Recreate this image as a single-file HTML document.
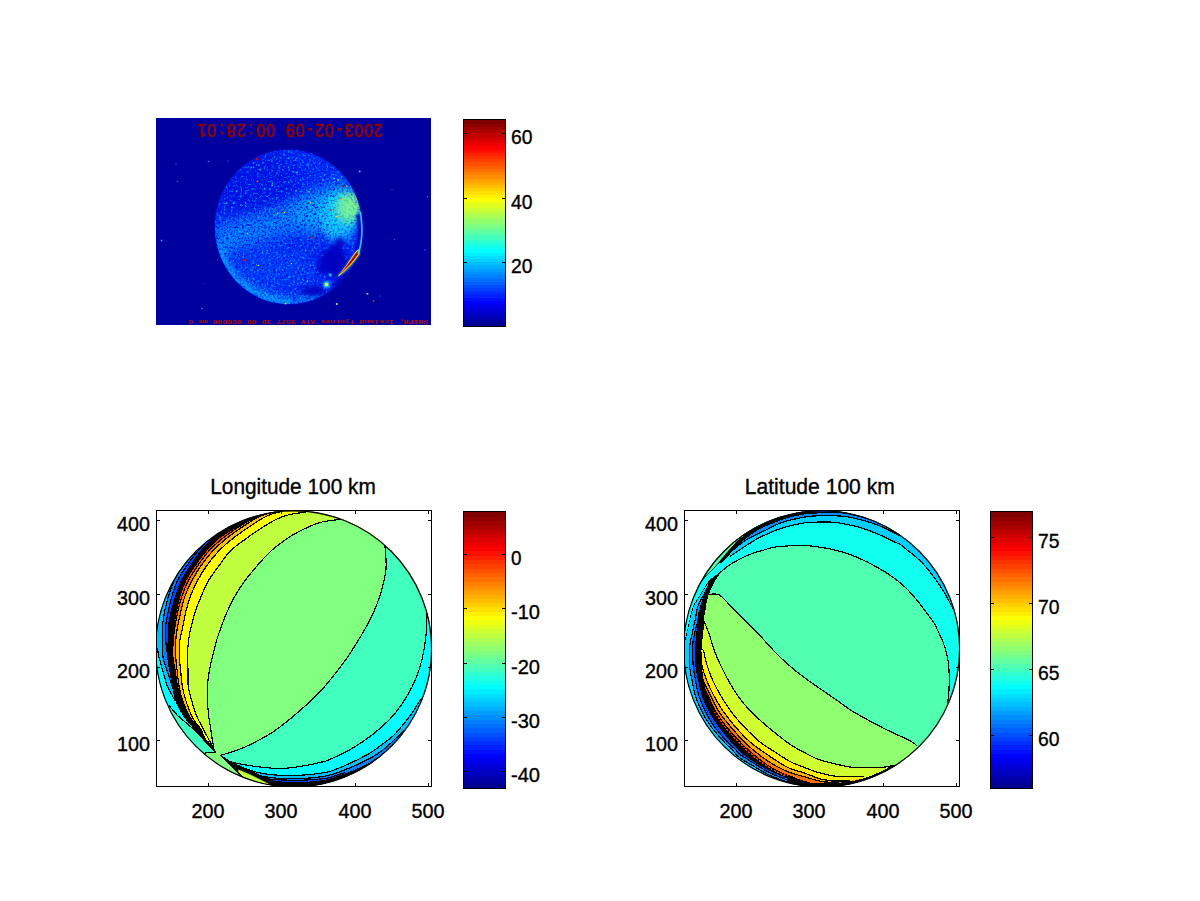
<!DOCTYPE html>
<html><head><meta charset="utf-8"><title>Figure</title>
<style>
html,body{margin:0;padding:0;background:#fff;}
body{width:1200px;height:901px;overflow:hidden;position:relative;font-family:"Liberation Sans",Arial,Helvetica,sans-serif;}
svg{position:absolute;left:0;top:0;display:block;}
text{fill:#000;stroke:#000;stroke-width:0.35px;}
</style></head><body>
<svg width="1200" height="901" viewBox="0 0 1200 901">
<rect x="0" y="0" width="1200" height="901" fill="#fff"/>
<defs>
<clipPath id="imgclip"><rect x="156" y="118" width="275" height="207"/></clipPath>
<clipPath id="diskclip"><ellipse cx="288.5" cy="227.0" rx="73.5" ry="77.0"/></clipPath>
<filter id="b2" filterUnits="userSpaceOnUse" x="140" y="100" width="310" height="240"><feGaussianBlur stdDeviation="2"/></filter>
<filter id="b4" filterUnits="userSpaceOnUse" x="140" y="100" width="310" height="240"><feGaussianBlur stdDeviation="4"/></filter>
<filter id="b7" filterUnits="userSpaceOnUse" x="140" y="100" width="310" height="240"><feGaussianBlur stdDeviation="7"/></filter>
<filter id="b1" filterUnits="userSpaceOnUse" x="140" y="100" width="310" height="240"><feGaussianBlur stdDeviation="0.9"/></filter>
<filter id="noiseL" x="0" y="0" width="100%" height="100%" color-interpolation-filters="sRGB">
<feTurbulence type="fractalNoise" baseFrequency="0.42" numOctaves="2" seed="3" result="t"/>
<feColorMatrix in="t" type="matrix" values="0 0 0 0 0  0 0 0 0 0.70  0 0 0 0 1  3.0 0 0 0 -1.55"/>
</filter>
<filter id="noiseD" x="0" y="0" width="100%" height="100%" color-interpolation-filters="sRGB">
<feTurbulence type="fractalNoise" baseFrequency="0.45" numOctaves="2" seed="9" result="t"/>
<feColorMatrix in="t" type="matrix" values="0 0 0 0 0  0 0 0 0 0.05  0 0 0 0 0.9  0 3.0 0 0 -1.35"/>
</filter>
</defs>
<g clip-path="url(#imgclip)">
<rect x="156" y="118" width="275" height="207" fill="#00009F"/>
<ellipse cx="288.5" cy="227.0" rx="73.5" ry="77.0" fill="#0020F0" filter="url(#b1)"/>
<g clip-path="url(#diskclip)">
<rect x="200" y="140" width="180" height="180" fill="#0028F4"/>
<ellipse cx="255" cy="185" rx="45" ry="35" fill="#0010E0" opacity="0.8" filter="url(#b7)"/>
<path d="M215 243 C240 232 270 226 300 214 C320 205 335 198 352 190" fill="none" stroke="#0090FF" stroke-width="30" opacity="0.85" filter="url(#b7)"/>
<path d="M300 222 C320 212 335 210 356 205" fill="none" stroke="#00B8FF" stroke-width="34" opacity="0.8" filter="url(#b7)"/>
<path d="M218 240 C222 270 245 295 290 303 C300 304 310 300 320 296" fill="none" stroke="#00A0FF" stroke-width="10" opacity="0.9" filter="url(#b4)"/>
<ellipse cx="275" cy="268" rx="40" ry="20" fill="#0050FF" opacity="0.6" filter="url(#b7)"/>
<ellipse cx="350" cy="208" rx="9" ry="16" fill="#80FF90" opacity="1" filter="url(#b4)"/><ellipse cx="352" cy="207" rx="5" ry="10" fill="#A0FF70" opacity="0.9" filter="url(#b2)"/>
<ellipse cx="338" cy="218" rx="17" ry="26" fill="#20E0FF" opacity="0.7" filter="url(#b4)"/>
<rect x="210" y="145" width="160" height="165" filter="url(#noiseL)"/>
<rect x="210" y="145" width="160" height="165" filter="url(#noiseD)"/>
<ellipse cx="340" cy="216" rx="16" ry="24" fill="#10D8FF" opacity="0.45" filter="url(#b4)"/>
<ellipse cx="347" cy="208" rx="11" ry="14" fill="#98FF78" opacity="0.7" filter="url(#b4)"/>
<path d="M220 250 C226 275 248 296 290 303" fill="none" stroke="#10C0FF" stroke-width="5" opacity="0.45" filter="url(#b2)"/>
<ellipse cx="333" cy="262" rx="14" ry="14" fill="#0000BE" opacity="0.88" filter="url(#b4)"/><ellipse cx="335" cy="262" rx="10" ry="11" fill="#0000BE" opacity="0.88" filter="url(#b2)"/>
<path d="M322 268 C330 262 336 250 340 242" fill="none" stroke="#0000C4" opacity="0.85" stroke-width="10" stroke-linecap="round" filter="url(#b2)"/>
<ellipse cx="313" cy="291" rx="12" ry="5" fill="#0000BC" opacity="0.88" filter="url(#b2)"/>
<path d="M358 214 C361 228 360 242 355 256 C352 266 346 276 338 284" fill="none" stroke="#0000BE" opacity="0.88" stroke-width="4.5" filter="url(#b1)"/>
<path d="M352 262 C348 272 342 280 334 288" fill="none" stroke="#0000BE" opacity="0.88" stroke-width="7" filter="url(#b2)"/>
</g>
<path d="M337.5 277 Q346 266 355.5 251.5 L359.8 248.5 L360 254.5 Q352 266 344 273 Z" fill="#20E0FF" opacity="0.7" filter="url(#b1)"/>
<path d="M338.5 276 Q347 265.5 355.8 252 L359 249.6 L359.2 254 Q352 264.5 343.5 272 Z" fill="#FFD800" stroke="#FFD800" stroke-width="0.8" stroke-linejoin="round"/>
<path d="M339.5 275 Q347.5 265.5 356 252.8 L358.4 250.8 L358.4 253.8 Q351.5 264 343.5 271.2 Z" fill="#E81000"/>
<path d="M345 268.5 Q351 261.5 356.2 253.6 L357.9 252 L357.7 254 Q352.5 261.5 347 267 Z" fill="#8C0000"/>
<path d="M360.5 212 C363 230 362 244 358 254" fill="none" stroke="#30D0FF" stroke-width="1.6" opacity="0.9"/>
<circle cx="326.5" cy="284.5" r="3.2" fill="#30E0FF" filter="url(#b1)"/>
<rect x="325" y="283" width="3" height="3" fill="#F0F000"/>
<rect x="329" y="273.5" width="2.5" height="3" fill="#20B0FF"/>
<rect x="256.1" y="157.7" width="2.2" height="2.2" fill="#E00000"/>
<rect x="256.7" y="180.7" width="1.6" height="1.6" fill="#FF6000"/>
<rect x="358.9" y="170.7" width="1.6" height="1.6" fill="#60C0FF"/>
<rect x="342.3" y="185.8" width="1.4" height="1.4" fill="#C00000"/>
<rect x="337.3" y="179.3" width="1.4" height="1.4" fill="#FFE000"/>
<rect x="345.9" y="185.4" width="1.2" height="1.2" fill="#FF8000"/>
<rect x="329.8" y="209.3" width="1.4" height="1.4" fill="#D00000"/>
<rect x="335.8" y="215.8" width="1.4" height="1.4" fill="#FFE000"/>
<rect x="341.9" y="198.9" width="1.2" height="1.2" fill="#FFE000"/>
<rect x="309.9" y="201.9" width="1.2" height="1.2" fill="#FFD000"/>
<rect x="308.5" y="191.5" width="1.0" height="1.0" fill="#FFD000"/>
<rect x="246.8" y="232.8" width="1.3" height="1.3" fill="#FFE000"/>
<rect x="243.0" y="259.0" width="2.0" height="2.0" fill="#E00000"/>
<rect x="254.9" y="264.9" width="1.2" height="1.2" fill="#C00000"/>
<rect x="257.9" y="264.9" width="1.2" height="1.2" fill="#FFE000"/>
<rect x="288.9" y="239.9" width="1.2" height="1.2" fill="#C00000"/>
<rect x="294.9" y="244.9" width="1.2" height="1.2" fill="#FF4000"/>
<rect x="290.9" y="262.9" width="1.3" height="1.3" fill="#FFE000"/>
<rect x="311.9" y="236.8" width="1.3" height="1.3" fill="#D02000"/>
<rect x="284.7" y="302.7" width="1.6" height="1.6" fill="#E0F000"/>
<rect x="306.9" y="280.4" width="1.2" height="1.2" fill="#80FF80"/>
<rect x="335.9" y="303.1" width="1.8" height="1.8" fill="#90F090"/>
<rect x="366.7" y="293.0" width="1.6" height="1.6" fill="#90F0C0"/>
<rect x="372.8" y="300.2" width="1.5" height="1.5" fill="#E04000"/>
<rect x="207.8" y="160.8" width="1.4" height="1.4" fill="#2080FF"/>
<rect x="202.9" y="282.9" width="1.2" height="1.2" fill="#B00000"/>
<rect x="160.8" y="239.8" width="1.5" height="1.5" fill="#30B0FF"/>
<rect x="176.8" y="180.8" width="1.3" height="1.3" fill="#2060FF"/>
<rect x="201.4" y="307.9" width="1.2" height="1.2" fill="#30A0FF"/>
<rect x="276.9" y="212.9" width="1.2" height="1.2" fill="#FFE000"/>
<rect x="283.9" y="211.9" width="1.2" height="1.2" fill="#FFE000"/>
<rect x="271.6" y="184.9" width="1.2" height="1.2" fill="#40E0FF"/>
<rect x="296.3" y="171.8" width="1.4" height="1.4" fill="#40E0FF"/>
<rect x="333.3" y="177.8" width="1.4" height="1.4" fill="#40E0FF"/>
<rect x="322.4" y="179.4" width="1.2" height="1.2" fill="#40E0FF"/>
<rect x="295.4" y="190.4" width="1.2" height="1.2" fill="#40E0FF"/>
<rect x="393.9" y="238.8" width="1.3" height="1.3" fill="#2060FF"/>
<rect x="391.4" y="189.4" width="1.2" height="1.2" fill="#2050E0"/>
<rect x="426.9" y="196.4" width="1.2" height="1.2" fill="#2080FF"/>
<rect x="424.4" y="249.4" width="1.2" height="1.2" fill="#2080FF"/>
<rect x="175.4" y="163.4" width="1.2" height="1.2" fill="#2060FF"/>
<rect x="227.4" y="160.4" width="1.2" height="1.2" fill="#2060FF"/>
<rect x="379.4" y="295.4" width="1.2" height="1.2" fill="#2060E0"/>
<rect x="216.8" y="259.3" width="1.4" height="1.4" fill="#1040FF"/>
<g transform="rotate(180 290 130.5)"><text transform="translate(290.2 137.2) scale(0.84 1)" x="-105.00 -93.33 -81.67 -70.00 -58.33 -46.67 -35.00 -23.33 -11.67 0.00 11.67 23.33 35.00 46.67 58.33 70.00 81.67 93.33 105.00" y="0" text-anchor="middle" font-family="Liberation Sans, Arial, sans-serif" font-size="18.6" style="fill:#8C0000;stroke:#8C0000;stroke-width:0.7px">2003-02-09 00:28:01</text></g>
<g transform="rotate(180 308 321.3)"><text x="308" y="322.8" text-anchor="middle" font-family="Liberation Mono, DejaVu Sans Mono, monospace" font-size="6" font-weight="bold" style="fill:#B01000;stroke:none" textLength="240" lengthAdjust="spacingAndGlyphs">©NIPR, Iceland Tjornes ATV 5577 30 00 000000 ms 0</text></g>
</g>
<g shape-rendering="crispEdges">
<rect x="464" y="322.78" width="41" height="3.82" fill="#00008F"/>
<rect x="464" y="319.56" width="41" height="3.82" fill="#00009F"/>
<rect x="464" y="316.34" width="41" height="3.82" fill="#0000AF"/>
<rect x="464" y="313.12" width="41" height="3.82" fill="#0000BF"/>
<rect x="464" y="309.91" width="41" height="3.82" fill="#0000CF"/>
<rect x="464" y="306.69" width="41" height="3.82" fill="#0000DF"/>
<rect x="464" y="303.47" width="41" height="3.82" fill="#0000EF"/>
<rect x="464" y="300.25" width="41" height="3.82" fill="#0000FF"/>
<rect x="464" y="297.03" width="41" height="3.82" fill="#0010FF"/>
<rect x="464" y="293.81" width="41" height="3.82" fill="#0020FF"/>
<rect x="464" y="290.59" width="41" height="3.82" fill="#0030FF"/>
<rect x="464" y="287.38" width="41" height="3.82" fill="#0040FF"/>
<rect x="464" y="284.16" width="41" height="3.82" fill="#0050FF"/>
<rect x="464" y="280.94" width="41" height="3.82" fill="#0060FF"/>
<rect x="464" y="277.72" width="41" height="3.82" fill="#0070FF"/>
<rect x="464" y="274.50" width="41" height="3.82" fill="#0080FF"/>
<rect x="464" y="271.28" width="41" height="3.82" fill="#008FFF"/>
<rect x="464" y="268.06" width="41" height="3.82" fill="#009FFF"/>
<rect x="464" y="264.84" width="41" height="3.82" fill="#00AFFF"/>
<rect x="464" y="261.62" width="41" height="3.82" fill="#00BFFF"/>
<rect x="464" y="258.41" width="41" height="3.82" fill="#00CFFF"/>
<rect x="464" y="255.19" width="41" height="3.82" fill="#00DFFF"/>
<rect x="464" y="251.97" width="41" height="3.82" fill="#00EFFF"/>
<rect x="464" y="248.75" width="41" height="3.82" fill="#00FFFF"/>
<rect x="464" y="245.53" width="41" height="3.82" fill="#10FFEF"/>
<rect x="464" y="242.31" width="41" height="3.82" fill="#20FFDF"/>
<rect x="464" y="239.09" width="41" height="3.82" fill="#30FFCF"/>
<rect x="464" y="235.88" width="41" height="3.82" fill="#40FFBF"/>
<rect x="464" y="232.66" width="41" height="3.82" fill="#50FFAF"/>
<rect x="464" y="229.44" width="41" height="3.82" fill="#60FF9F"/>
<rect x="464" y="226.22" width="41" height="3.82" fill="#70FF8F"/>
<rect x="464" y="223.00" width="41" height="3.82" fill="#80FF80"/>
<rect x="464" y="219.78" width="41" height="3.82" fill="#8FFF70"/>
<rect x="464" y="216.56" width="41" height="3.82" fill="#9FFF60"/>
<rect x="464" y="213.34" width="41" height="3.82" fill="#AFFF50"/>
<rect x="464" y="210.12" width="41" height="3.82" fill="#BFFF40"/>
<rect x="464" y="206.91" width="41" height="3.82" fill="#CFFF30"/>
<rect x="464" y="203.69" width="41" height="3.82" fill="#DFFF20"/>
<rect x="464" y="200.47" width="41" height="3.82" fill="#EFFF10"/>
<rect x="464" y="197.25" width="41" height="3.82" fill="#FFFF00"/>
<rect x="464" y="194.03" width="41" height="3.82" fill="#FFEF00"/>
<rect x="464" y="190.81" width="41" height="3.82" fill="#FFDF00"/>
<rect x="464" y="187.59" width="41" height="3.82" fill="#FFCF00"/>
<rect x="464" y="184.38" width="41" height="3.82" fill="#FFBF00"/>
<rect x="464" y="181.16" width="41" height="3.82" fill="#FFAF00"/>
<rect x="464" y="177.94" width="41" height="3.82" fill="#FF9F00"/>
<rect x="464" y="174.72" width="41" height="3.82" fill="#FF8F00"/>
<rect x="464" y="171.50" width="41" height="3.82" fill="#FF8000"/>
<rect x="464" y="168.28" width="41" height="3.82" fill="#FF7000"/>
<rect x="464" y="165.06" width="41" height="3.82" fill="#FF6000"/>
<rect x="464" y="161.84" width="41" height="3.82" fill="#FF5000"/>
<rect x="464" y="158.62" width="41" height="3.82" fill="#FF4000"/>
<rect x="464" y="155.41" width="41" height="3.82" fill="#FF3000"/>
<rect x="464" y="152.19" width="41" height="3.82" fill="#FF2000"/>
<rect x="464" y="148.97" width="41" height="3.82" fill="#FF1000"/>
<rect x="464" y="145.75" width="41" height="3.82" fill="#FF0000"/>
<rect x="464" y="142.53" width="41" height="3.82" fill="#EF0000"/>
<rect x="464" y="139.31" width="41" height="3.82" fill="#DF0000"/>
<rect x="464" y="136.09" width="41" height="3.82" fill="#CF0000"/>
<rect x="464" y="132.88" width="41" height="3.82" fill="#BF0000"/>
<rect x="464" y="129.66" width="41" height="3.82" fill="#AF0000"/>
<rect x="464" y="126.44" width="41" height="3.82" fill="#9F0000"/>
<rect x="464" y="123.22" width="41" height="3.82" fill="#8F0000"/>
<rect x="464" y="120.00" width="41" height="3.82" fill="#800000"/>
<rect x="463.5" y="119.5" width="42" height="207" fill="none" stroke="#000" stroke-width="1"/>
<rect x="464" y="133" width="3" height="1" fill="#000"/>
<rect x="502" y="133" width="3" height="1" fill="#000"/>
<rect x="464" y="198" width="3" height="1" fill="#000"/>
<rect x="502" y="198" width="3" height="1" fill="#000"/>
<rect x="464" y="262" width="3" height="1" fill="#000"/>
<rect x="502" y="262" width="3" height="1" fill="#000"/>
</g>
<text x="511.0" y="143.5" font-size="19.5" font-family="Liberation Sans, Arial, Helvetica, sans-serif" textLength="21.5" lengthAdjust="spacingAndGlyphs">60</text>
<text x="511.0" y="208.5" font-size="19.5" font-family="Liberation Sans, Arial, Helvetica, sans-serif" textLength="21.5" lengthAdjust="spacingAndGlyphs">40</text>
<text x="511.0" y="272.5" font-size="19.5" font-family="Liberation Sans, Arial, Helvetica, sans-serif" textLength="21.5" lengthAdjust="spacingAndGlyphs">20</text>
<defs><clipPath id="clipL"><circle cx="293.6" cy="648.8" r="138.3"/></clipPath><clipPath id="axL"><rect x="157" y="511" width="274" height="275"/></clipPath></defs>
<g clip-path="url(#axL)"><g clip-path="url(#clipL)" shape-rendering="crispEdges">
<rect x="150" y="500" width="300" height="300" fill="#00BFFF"/>
<path d="M175.2 701.0 C174.7 700.0 173.3 697.5 172.0 695.0 C170.7 692.5 168.8 690.0 167.3 686.0 C165.8 682.0 164.2 676.0 162.8 671.0 C161.4 666.0 159.7 659.8 158.7 656.0 C157.7 652.2 158.4 650.7 157.0 648.0 C155.6 645.3 151.2 641.3 150.0 640.0 L150.0 640.0 L150.0 760.0 L200.0 760.0 L200.0 736.7 Z" fill="#00FFFF"/>
<path d="M150.0 640.0 C151.2 641.3 155.6 645.3 157.0 648.0 C158.4 650.7 157.7 652.2 158.7 656.0 C159.7 659.8 161.4 666.0 162.8 671.0 C164.2 676.0 165.8 682.0 167.3 686.0 C168.8 690.0 170.7 692.5 172.0 695.0 C173.3 697.5 174.7 700.0 175.2 701.0" fill="none" stroke="#000" stroke-width="1.20"/>
<path d="M190.0 556.0 C188.7 557.8 184.7 562.3 182.0 566.5 C179.3 570.7 176.2 576.1 174.0 581.0 C171.8 585.9 170.1 591.0 168.5 596.0 C166.9 601.0 165.7 606.0 164.7 611.0 C163.7 616.0 162.9 621.0 162.5 626.0 C162.1 631.0 162.2 636.0 162.3 641.0 C162.4 646.0 162.0 651.0 162.8 656.0 C163.6 661.0 165.7 666.0 167.2 671.0 C168.7 676.0 170.5 681.7 172.0 686.0 C173.5 690.3 174.8 694.0 176.0 697.0 C177.2 700.0 178.5 702.8 179.0 704.0 L230.0 760.0 L520.0 760.0 L520.0 480.0 Z" fill="#0080FF"/>
<path d="M190.0 556.0 C188.7 557.8 184.7 562.3 182.0 566.5 C179.3 570.7 176.2 576.1 174.0 581.0 C171.8 585.9 170.1 591.0 168.5 596.0 C166.9 601.0 165.7 606.0 164.7 611.0 C163.7 616.0 162.9 621.0 162.5 626.0 C162.1 631.0 162.2 636.0 162.3 641.0 C162.4 646.0 162.0 651.0 162.8 656.0 C163.6 661.0 165.7 666.0 167.2 671.0 C168.7 676.0 170.5 681.7 172.0 686.0 C173.5 690.3 174.8 694.0 176.0 697.0 C177.2 700.0 178.5 702.8 179.0 704.0" fill="none" stroke="#000" stroke-width="1.20"/>
<path d="M207.0 541.0 C205.5 542.7 201.4 546.8 198.0 551.0 C194.6 555.2 189.9 561.0 186.5 566.0 C183.1 571.0 179.7 576.0 177.3 581.0 C174.9 586.0 173.5 591.0 172.0 596.0 C170.5 601.0 169.4 606.0 168.3 611.0 C167.2 616.0 166.1 621.0 165.7 626.0 C165.3 631.0 165.6 636.7 165.8 641.0 C166.0 645.3 166.8 650.2 167.0 652.0 L172.0 680.0 L230.0 760.0 L520.0 760.0 L520.0 480.0 Z" fill="#0040FF"/>
<path d="M207.0 541.0 C205.5 542.7 201.4 546.8 198.0 551.0 C194.6 555.2 189.9 561.0 186.5 566.0 C183.1 571.0 179.7 576.0 177.3 581.0 C174.9 586.0 173.5 591.0 172.0 596.0 C170.5 601.0 169.4 606.0 168.3 611.0 C167.2 616.0 166.1 621.0 165.7 626.0 C165.3 631.0 165.6 636.7 165.8 641.0 C166.0 645.3 166.8 650.2 167.0 652.0" fill="none" stroke="#000" stroke-width="1.20"/>
<path d="M266.7 511.5 C264.4 512.2 258.1 513.6 252.7 515.5 C247.2 517.4 240.8 519.2 234.0 523.0 C227.2 526.8 216.2 535.0 212.0 538.0 C207.8 541.0 211.0 538.8 209.0 541.0 C207.0 543.2 203.4 546.8 200.2 551.0 C196.9 555.2 192.8 561.0 189.5 566.0 C186.2 571.0 182.9 576.0 180.5 581.0 C178.1 586.0 176.8 591.0 175.2 596.0 C173.6 601.0 171.9 606.0 170.7 611.0 C169.5 616.0 168.5 621.0 168.0 626.0 C167.5 631.0 167.9 636.0 167.7 641.0 C167.5 646.0 166.7 651.0 167.0 656.0 C167.3 661.0 168.5 666.0 169.3 671.0 C170.1 676.0 171.0 681.0 172.0 686.0 C173.0 691.0 173.5 696.0 175.3 701.0 C177.1 706.0 179.9 711.3 183.0 716.0 C186.1 720.7 190.3 725.1 194.0 729.3 C197.7 733.5 202.1 738.0 205.0 741.0 C207.9 744.0 210.6 746.2 211.7 747.3 L215.3 752.0 L230.0 760.0 L520.0 760.0 L520.0 480.0 Z" fill="#000"/>
<path d="M262.0 513.5 C259.1 515.1 251.5 518.9 244.5 523.0 C237.5 527.1 226.3 533.3 220.0 538.0 C213.7 542.7 210.9 546.3 206.8 551.0 C202.7 555.7 198.9 561.0 195.5 566.0 C192.1 571.0 188.7 576.0 186.2 581.0 C183.7 586.0 182.0 591.0 180.5 596.0 C179.0 601.0 177.9 606.7 177.0 611.0 C176.1 615.3 175.3 620.2 175.0 622.0 L185.0 640.0 L230.0 760.0 L520.0 760.0 L520.0 480.0 Z" fill="#FF4000"/>
<path d="M262.5 514.0 C259.6 515.5 251.6 519.0 245.0 523.0 C238.4 527.0 229.0 533.3 223.0 538.0 C217.0 542.7 213.1 546.3 208.8 551.0 C204.6 555.7 200.9 561.0 197.5 566.0 C194.1 571.0 190.8 576.0 188.2 581.0 C185.6 586.0 183.7 591.0 182.0 596.0 C180.3 601.0 179.2 606.0 178.0 611.0 C176.8 616.0 175.8 621.0 175.0 626.0 C174.2 631.0 173.6 636.0 173.2 641.0 C172.8 646.0 172.5 651.0 172.8 656.0 C173.1 661.0 174.4 666.0 175.2 671.0 C176.0 676.0 176.4 681.0 177.5 686.0 C178.6 691.0 180.8 697.6 182.0 701.0 C183.2 704.4 184.1 705.6 184.5 706.5 L189.3 716.0 L193.0 721.0 L197.0 724.5 L201.0 729.3 L205.5 739.5 L208.5 742.0 L213.0 747.3 L215.3 752.0 L230.0 760.0 L520.0 760.0 L520.0 480.0 Z" fill="#FF8000"/>
<path d="M262.5 514.0 C259.6 515.5 251.6 519.0 245.0 523.0 C238.4 527.0 229.0 533.3 223.0 538.0 C217.0 542.7 213.1 546.3 208.8 551.0 C204.6 555.7 200.9 561.0 197.5 566.0 C194.1 571.0 190.8 576.0 188.2 581.0 C185.6 586.0 183.7 591.0 182.0 596.0 C180.3 601.0 179.2 606.0 178.0 611.0 C176.8 616.0 175.8 621.0 175.0 626.0 C174.2 631.0 173.6 636.0 173.2 641.0 C172.8 646.0 172.5 651.0 172.8 656.0 C173.1 661.0 174.4 666.0 175.2 671.0 C176.0 676.0 176.4 681.0 177.5 686.0 C178.6 691.0 180.8 697.6 182.0 701.0 C183.2 704.4 184.1 705.6 184.5 706.5" fill="none" stroke="#000" stroke-width="1.20"/>
<path d="M276.0 511.5 C273.7 512.2 266.6 513.6 262.0 515.5 C257.4 517.4 254.1 519.2 248.3 523.0 C242.5 526.8 232.9 533.3 227.0 538.0 C221.1 542.7 217.1 546.3 212.7 551.0 C208.3 555.7 204.2 561.0 200.7 566.0 C197.2 571.0 194.4 576.0 191.8 581.0 C189.2 586.0 186.8 591.0 185.0 596.0 C183.2 601.0 182.2 606.0 181.0 611.0 C179.8 616.0 178.6 621.0 177.7 626.0 C176.8 631.0 176.0 636.0 175.7 641.0 C175.4 646.0 175.4 651.0 175.7 656.0 C175.9 661.0 176.6 666.0 177.2 671.0 C177.8 676.0 178.1 681.0 179.0 686.0 C179.9 691.0 181.1 696.0 182.8 701.0 C184.5 706.0 187.6 712.7 189.3 716.0 C191.0 719.3 191.7 719.6 193.0 721.0 C194.3 722.4 196.3 723.9 197.0 724.5 L201.0 729.3 L205.5 739.5 L208.5 742.0 L213.0 747.3 L215.3 752.0 L230.0 760.0 L520.0 760.0 L520.0 480.0 Z" fill="#FFBF00"/>
<path d="M276.0 511.5 C273.7 512.2 266.6 513.6 262.0 515.5 C257.4 517.4 254.1 519.2 248.3 523.0 C242.5 526.8 232.9 533.3 227.0 538.0 C221.1 542.7 217.1 546.3 212.7 551.0 C208.3 555.7 204.2 561.0 200.7 566.0 C197.2 571.0 194.4 576.0 191.8 581.0 C189.2 586.0 186.8 591.0 185.0 596.0 C183.2 601.0 182.2 606.0 181.0 611.0 C179.8 616.0 178.6 621.0 177.7 626.0 C176.8 631.0 176.0 636.0 175.7 641.0 C175.4 646.0 175.4 651.0 175.7 656.0 C175.9 661.0 176.6 666.0 177.2 671.0 C177.8 676.0 178.1 681.0 179.0 686.0 C179.9 691.0 181.1 696.0 182.8 701.0 C184.5 706.0 187.6 712.7 189.3 716.0 C191.0 719.3 191.7 719.6 193.0 721.0 C194.3 722.4 196.3 723.9 197.0 724.5" fill="none" stroke="#000" stroke-width="1.20"/>
<path d="M281.0 511.5 C278.8 512.2 272.3 513.6 268.0 515.5 C263.7 517.4 260.8 519.2 255.0 523.0 C249.2 526.8 239.6 533.3 233.5 538.0 C227.4 542.7 223.2 546.3 218.7 551.0 C214.2 555.7 210.1 561.0 206.5 566.0 C202.9 571.0 200.0 576.0 197.3 581.0 C194.6 586.0 192.4 591.0 190.5 596.0 C188.6 601.0 187.2 606.0 186.0 611.0 C184.8 616.0 184.0 621.0 183.0 626.0 C182.0 631.0 180.4 636.0 179.8 641.0 C179.2 646.0 179.2 651.0 179.3 656.0 C179.5 661.0 180.2 666.0 180.7 671.0 C181.2 676.0 181.4 681.0 182.3 686.0 C183.2 691.0 184.4 696.0 186.0 701.0 C187.6 706.0 189.9 712.1 191.7 716.0 C193.5 719.9 195.4 722.3 197.0 724.5 C198.6 726.7 199.6 726.8 201.0 729.3 C202.4 731.8 204.2 737.4 205.5 739.5 C206.8 741.6 208.0 741.6 208.5 742.0 L213.0 747.3 L215.3 752.0 L230.0 760.0 L520.0 760.0 L520.0 480.0 Z" fill="#FFFF00"/>
<path d="M281.0 511.5 C278.8 512.2 272.3 513.6 268.0 515.5 C263.7 517.4 260.8 519.2 255.0 523.0 C249.2 526.8 239.6 533.3 233.5 538.0 C227.4 542.7 223.2 546.3 218.7 551.0 C214.2 555.7 210.1 561.0 206.5 566.0 C202.9 571.0 200.0 576.0 197.3 581.0 C194.6 586.0 192.4 591.0 190.5 596.0 C188.6 601.0 187.2 606.0 186.0 611.0 C184.8 616.0 184.0 621.0 183.0 626.0 C182.0 631.0 180.4 636.0 179.8 641.0 C179.2 646.0 179.2 651.0 179.3 656.0 C179.5 661.0 180.2 666.0 180.7 671.0 C181.2 676.0 181.4 681.0 182.3 686.0 C183.2 691.0 184.4 696.0 186.0 701.0 C187.6 706.0 189.9 712.1 191.7 716.0 C193.5 719.9 195.4 722.3 197.0 724.5 C198.6 726.7 199.6 726.8 201.0 729.3 C202.4 731.8 204.2 737.4 205.5 739.5 C206.8 741.6 208.0 741.6 208.5 742.0" fill="none" stroke="#000" stroke-width="1.20"/>
<path d="M309.0 511.5 C305.2 512.2 292.6 513.6 286.0 515.5 C279.4 517.4 276.0 519.2 269.5 523.0 C263.0 526.8 253.5 533.3 247.0 538.0 C240.5 542.7 235.0 546.3 230.3 551.0 C225.6 555.7 222.5 561.0 218.8 566.0 C215.1 571.0 211.2 576.0 208.3 581.0 C205.4 586.0 203.4 591.0 201.3 596.0 C199.2 601.0 197.2 606.0 195.5 611.0 C193.8 616.0 192.5 621.0 191.3 626.0 C190.1 631.0 189.1 636.0 188.5 641.0 C187.9 646.0 187.6 651.0 187.5 656.0 C187.4 661.0 187.9 666.0 188.0 671.0 C188.1 676.0 187.6 681.0 188.2 686.0 C188.8 691.0 190.4 696.0 191.8 701.0 C193.2 706.0 194.8 711.3 196.7 716.0 C198.6 720.7 201.6 725.6 203.5 729.3 C205.4 733.0 206.4 735.0 208.0 738.0 C209.6 741.0 211.8 745.0 213.0 747.3 C214.2 749.6 214.9 751.2 215.3 752.0 L230.0 760.0 L520.0 760.0 L520.0 480.0 Z" fill="#BFFF40"/>
<path d="M309.0 511.5 C305.2 512.2 292.6 513.6 286.0 515.5 C279.4 517.4 276.0 519.2 269.5 523.0 C263.0 526.8 253.5 533.3 247.0 538.0 C240.5 542.7 235.0 546.3 230.3 551.0 C225.6 555.7 222.5 561.0 218.8 566.0 C215.1 571.0 211.2 576.0 208.3 581.0 C205.4 586.0 203.4 591.0 201.3 596.0 C199.2 601.0 197.2 606.0 195.5 611.0 C193.8 616.0 192.5 621.0 191.3 626.0 C190.1 631.0 189.1 636.0 188.5 641.0 C187.9 646.0 187.6 651.0 187.5 656.0 C187.4 661.0 187.9 666.0 188.0 671.0 C188.1 676.0 187.6 681.0 188.2 686.0 C188.8 691.0 190.4 696.0 191.8 701.0 C193.2 706.0 194.8 711.3 196.7 716.0 C198.6 720.7 201.6 725.6 203.5 729.3 C205.4 733.0 206.4 735.0 208.0 738.0 C209.6 741.0 211.8 745.0 213.0 747.3 C214.2 749.6 214.9 751.2 215.3 752.0" fill="none" stroke="#000" stroke-width="1.20"/>
<path d="M341.5 519.2 C337.9 519.8 326.9 520.5 320.0 522.5 C313.1 524.5 305.3 528.4 300.0 531.0 C294.7 533.6 292.8 534.7 288.0 538.0 C283.2 541.3 276.2 546.3 271.0 551.0 C265.8 555.7 261.4 561.0 257.0 566.0 C252.6 571.0 248.4 576.0 244.7 581.0 C241.0 586.0 237.9 591.0 235.0 596.0 C232.1 601.0 229.8 606.0 227.5 611.0 C225.2 616.0 223.3 621.0 221.5 626.0 C219.7 631.0 217.9 636.0 216.4 641.0 C214.9 646.0 213.9 651.0 212.7 656.0 C211.5 661.0 210.2 666.0 209.3 671.0 C208.4 676.0 207.8 681.0 207.5 686.0 C207.2 691.0 207.3 696.0 207.5 701.0 C207.7 706.0 208.1 711.3 208.7 716.0 C209.2 720.7 210.3 726.0 210.8 729.3 C211.3 732.6 211.1 732.4 211.7 736.0 C212.3 739.6 213.7 748.0 214.3 750.7 C214.9 753.4 215.1 751.8 215.3 752.0 L230.0 760.0 L520.0 760.0 L520.0 480.0 Z" fill="#80FF80"/>
<path d="M341.5 519.2 C337.9 519.8 326.9 520.5 320.0 522.5 C313.1 524.5 305.3 528.4 300.0 531.0 C294.7 533.6 292.8 534.7 288.0 538.0 C283.2 541.3 276.2 546.3 271.0 551.0 C265.8 555.7 261.4 561.0 257.0 566.0 C252.6 571.0 248.4 576.0 244.7 581.0 C241.0 586.0 237.9 591.0 235.0 596.0 C232.1 601.0 229.8 606.0 227.5 611.0 C225.2 616.0 223.3 621.0 221.5 626.0 C219.7 631.0 217.9 636.0 216.4 641.0 C214.9 646.0 213.9 651.0 212.7 656.0 C211.5 661.0 210.2 666.0 209.3 671.0 C208.4 676.0 207.8 681.0 207.5 686.0 C207.2 691.0 207.3 696.0 207.5 701.0 C207.7 706.0 208.1 711.3 208.7 716.0 C209.2 720.7 210.3 726.0 210.8 729.3 C211.3 732.6 211.1 732.4 211.7 736.0 C212.3 739.6 213.7 748.0 214.3 750.7 C214.9 753.4 215.1 751.8 215.3 752.0" fill="none" stroke="#000" stroke-width="1.20"/>
<path d="M384.9 545.3 C385.1 547.8 385.9 555.6 386.0 560.0 C386.1 564.4 386.5 566.3 385.7 571.6 C384.9 576.9 383.3 584.7 381.2 591.6 C379.1 598.5 376.5 606.0 373.2 613.2 C369.9 620.4 365.6 628.0 361.6 634.9 C357.6 641.8 352.7 649.4 349.1 654.8 C345.5 660.2 344.6 661.6 340.0 667.5 C335.4 673.4 328.3 682.8 321.6 690.0 C314.9 697.2 307.6 703.9 299.8 710.7 C292.0 717.5 281.7 725.8 274.9 730.7 C268.1 735.6 264.0 737.3 259.0 740.0 C254.0 742.7 249.5 745.0 245.0 747.0 C240.5 749.0 236.1 750.4 232.0 751.8 C227.9 753.2 222.6 754.7 220.7 755.3 L241.0 775.5 L245.0 800.0 L520.0 800.0 L520.0 480.0 Z" fill="#40FFBF"/>
<path d="M384.9 545.3 C385.1 547.8 385.9 555.6 386.0 560.0 C386.1 564.4 386.5 566.3 385.7 571.6 C384.9 576.9 383.3 584.7 381.2 591.6 C379.1 598.5 376.5 606.0 373.2 613.2 C369.9 620.4 365.6 628.0 361.6 634.9 C357.6 641.8 352.7 649.4 349.1 654.8 C345.5 660.2 344.6 661.6 340.0 667.5 C335.4 673.4 328.3 682.8 321.6 690.0 C314.9 697.2 307.6 703.9 299.8 710.7 C292.0 717.5 281.7 725.8 274.9 730.7 C268.1 735.6 264.0 737.3 259.0 740.0 C254.0 742.7 249.5 745.0 245.0 747.0 C240.5 749.0 236.1 750.4 232.0 751.8 C227.9 753.2 222.6 754.7 220.7 755.3" fill="none" stroke="#000" stroke-width="1.20"/>
<path d="M220.7 755.3 C221.9 756.2 225.6 759.2 228.0 760.5 C230.4 761.8 229.7 761.9 235.0 763.0 C240.3 764.1 252.5 766.1 260.0 767.0 C267.5 767.9 273.3 768.6 280.0 768.5 C286.7 768.4 292.8 767.6 300.0 766.5 C307.2 765.4 318.3 762.9 323.3 761.7 C328.3 760.5 325.6 761.3 330.0 759.3 C334.4 757.3 343.0 753.8 350.0 749.7 C357.0 745.7 365.5 740.0 372.0 735.0 C378.5 730.0 384.0 725.2 389.0 720.0 C394.0 714.8 398.2 709.5 402.0 704.0 C405.8 698.5 409.2 692.7 412.0 687.0 C414.8 681.3 417.0 676.2 419.0 670.0 C421.0 663.8 422.8 656.7 424.0 650.0 C425.2 643.3 426.0 636.3 426.5 630.0 C427.0 623.7 426.9 615.0 427.0 612.0 L520.0 612.0 L520.0 800.0 L220.0 800.0 Z" fill="#00FFFF"/>
<path d="M220.7 755.3 C221.9 756.2 225.6 759.2 228.0 760.5 C230.4 761.8 229.7 761.9 235.0 763.0 C240.3 764.1 252.5 766.1 260.0 767.0 C267.5 767.9 273.3 768.6 280.0 768.5 C286.7 768.4 292.8 767.6 300.0 766.5 C307.2 765.4 318.3 762.9 323.3 761.7 C328.3 760.5 325.6 761.3 330.0 759.3 C334.4 757.3 343.0 753.8 350.0 749.7 C357.0 745.7 365.5 740.0 372.0 735.0 C378.5 730.0 384.0 725.2 389.0 720.0 C394.0 714.8 398.2 709.5 402.0 704.0 C405.8 698.5 409.2 692.7 412.0 687.0 C414.8 681.3 417.0 676.2 419.0 670.0 C421.0 663.8 422.8 656.7 424.0 650.0 C425.2 643.3 426.0 636.3 426.5 630.0 C427.0 623.7 426.9 615.0 427.0 612.0" fill="none" stroke="#000" stroke-width="1.20"/>
<path d="M233.0 763.5 C235.0 764.3 240.5 766.9 245.0 768.5 C249.5 770.1 255.0 771.9 260.0 773.0 C265.0 774.1 270.0 774.6 275.0 775.0 C280.0 775.4 284.2 775.6 290.0 775.5 C295.8 775.4 303.3 775.2 310.0 774.5 C316.7 773.8 323.3 773.2 330.0 771.3 C336.7 769.4 343.3 766.3 350.0 763.3 C356.7 760.2 363.9 756.7 370.0 753.0 C376.1 749.3 382.7 744.0 386.7 741.0 C390.7 738.0 391.4 737.5 394.0 735.0 C396.6 732.5 399.0 729.7 402.0 726.0 C405.0 722.3 409.2 717.0 412.0 713.0 C414.8 709.0 417.4 704.4 419.0 702.0 C420.6 699.6 421.1 699.1 421.5 698.5 L440.0 690.0 L520.0 690.0 L520.0 800.0 L230.0 800.0 Z" fill="#00BFFF"/>
<path d="M233.0 763.5 C235.0 764.3 240.5 766.9 245.0 768.5 C249.5 770.1 255.0 771.9 260.0 773.0 C265.0 774.1 270.0 774.6 275.0 775.0 C280.0 775.4 284.2 775.6 290.0 775.5 C295.8 775.4 303.3 775.2 310.0 774.5 C316.7 773.8 323.3 773.2 330.0 771.3 C336.7 769.4 343.3 766.3 350.0 763.3 C356.7 760.2 363.9 756.7 370.0 753.0 C376.1 749.3 382.7 744.0 386.7 741.0 C390.7 738.0 391.4 737.5 394.0 735.0 C396.6 732.5 399.0 729.7 402.0 726.0 C405.0 722.3 409.2 717.0 412.0 713.0 C414.8 709.0 417.4 704.4 419.0 702.0 C420.6 699.6 421.1 699.1 421.5 698.5" fill="none" stroke="#000" stroke-width="1.20"/>
<path d="M258.0 775.5 C260.8 775.9 269.7 777.5 275.0 778.0 C280.3 778.5 284.2 778.5 290.0 778.5 C295.8 778.5 303.3 778.6 310.0 778.0 C316.7 777.4 323.3 776.7 330.0 775.0 C336.7 773.3 343.3 770.5 350.0 767.7 C356.7 764.9 364.4 761.3 370.0 758.3 C375.6 755.3 378.4 753.6 383.3 749.7 C388.2 745.8 395.9 738.3 399.3 735.0 C402.8 731.7 403.2 730.8 404.0 730.0 L520.0 730.0 L520.0 800.0 L256.0 800.0 Z" fill="#0080FF"/>
<path d="M258.0 775.5 C260.8 775.9 269.7 777.5 275.0 778.0 C280.3 778.5 284.2 778.5 290.0 778.5 C295.8 778.5 303.3 778.6 310.0 778.0 C316.7 777.4 323.3 776.7 330.0 775.0 C336.7 773.3 343.3 770.5 350.0 767.7 C356.7 764.9 364.4 761.3 370.0 758.3 C375.6 755.3 378.4 753.6 383.3 749.7 C388.2 745.8 395.9 738.3 399.3 735.0 C402.8 731.7 403.2 730.8 404.0 730.0" fill="none" stroke="#000" stroke-width="1.20"/>
<path d="M272.0 779.5 C274.0 779.6 279.3 779.9 284.0 780.0 C288.7 780.1 294.0 780.5 300.0 780.3 C306.0 780.1 315.0 779.5 320.0 779.0 C325.0 778.5 325.8 778.6 330.0 777.5 C334.2 776.4 342.5 773.3 345.0 772.5 L345.0 800.0 L270.0 800.0 Z" fill="#0040FF"/>
<path d="M272.0 779.5 C274.0 779.6 279.3 779.9 284.0 780.0 C288.7 780.1 294.0 780.5 300.0 780.3 C306.0 780.1 315.0 779.5 320.0 779.0 C325.0 778.5 325.8 778.6 330.0 777.5 C334.2 776.4 342.5 773.3 345.0 772.5" fill="none" stroke="#000" stroke-width="1.20"/>
<path d="M226.0 759.5 C227.5 760.2 231.0 761.8 235.0 763.5 C239.0 765.2 245.8 768.1 250.0 770.0 C254.2 771.9 256.7 773.6 260.0 775.0 C263.3 776.4 267.3 777.5 270.0 778.5 C272.7 779.5 271.0 780.4 276.0 781.0 C281.0 781.6 292.7 782.1 300.0 782.0 C307.3 781.9 315.0 781.1 320.0 780.5 C325.0 779.9 325.0 779.8 330.0 778.3 C335.0 776.8 343.3 774.4 350.0 771.7 C356.7 769.0 364.2 765.6 370.0 762.3 C375.8 759.0 380.5 755.1 384.7 751.7 C388.9 748.3 392.4 744.5 395.0 742.0 C397.6 739.5 399.2 737.8 400.0 737.0 L520.0 737.0 L520.0 800.0 L226.0 800.0 Z" fill="#000"/>
<path d="M238.0 769.0 L250.0 774.0 L260.0 779.0 L269.0 783.5 L272.0 800.0 L236.0 800.0 Z" fill="#BFFF40" stroke="#000" stroke-width="0.80" stroke-linejoin="round"/>
<path d="M214.5 751.5 L200.0 752.0 L200.0 800.0 L243.0 800.0 L241.0 775.5 L231.0 766.0 L220.7 755.3 L221.0 753.0 Z" fill="#80FF80" stroke="none" stroke-width="1.20" stroke-linejoin="round"/>
<path d="M220.7 755.3 L231.0 766.0 L241.0 775.5 L243.0 778.0" fill="none" stroke="#000" stroke-width="1.20"/>
<path d="M169.3 706.0 L178.0 716.0 L193.7 729.3 L214.3 751.0 L215.3 752.0 L203.7 753.2 L190.0 770.0 L150.0 720.0 Z" fill="#40FFBF" stroke="#000" stroke-width="1.20" stroke-linejoin="round"/>
</g></g>
<g clip-path="url(#axL)"><circle cx="293.6" cy="648.8" r="138.0" fill="none" stroke="#000" stroke-width="1.2"/></g>
<g shape-rendering="crispEdges" fill="#000">
<rect x="156.5" y="510.5" width="275" height="276" fill="none" stroke="#000" stroke-width="1"/>
<rect x="208" y="511" width="1" height="3" />
<rect x="208" y="783" width="1" height="3" />
<rect x="281" y="511" width="1" height="3" />
<rect x="281" y="783" width="1" height="3" />
<rect x="355" y="511" width="1" height="3" />
<rect x="355" y="783" width="1" height="3" />
<rect x="428" y="511" width="1" height="3" />
<rect x="428" y="783" width="1" height="3" />
<rect x="157" y="520" width="3" height="1" />
<rect x="428" y="520" width="3" height="1" />
<rect x="157" y="594" width="3" height="1" />
<rect x="428" y="594" width="3" height="1" />
<rect x="157" y="667" width="3" height="1" />
<rect x="428" y="667" width="3" height="1" />
<rect x="157" y="740" width="3" height="1" />
<rect x="428" y="740" width="3" height="1" />
</g>
<text x="208" y="818" font-size="19.5" font-family="Liberation Sans, Arial, Helvetica, sans-serif" text-anchor="middle" textLength="33" lengthAdjust="spacingAndGlyphs">200</text>
<text x="281" y="818" font-size="19.5" font-family="Liberation Sans, Arial, Helvetica, sans-serif" text-anchor="middle" textLength="33" lengthAdjust="spacingAndGlyphs">300</text>
<text x="355" y="818" font-size="19.5" font-family="Liberation Sans, Arial, Helvetica, sans-serif" text-anchor="middle" textLength="33" lengthAdjust="spacingAndGlyphs">400</text>
<text x="428" y="818" font-size="19.5" font-family="Liberation Sans, Arial, Helvetica, sans-serif" text-anchor="middle" textLength="33" lengthAdjust="spacingAndGlyphs">500</text>
<text x="150.0" y="530.5" font-size="19.5" font-family="Liberation Sans, Arial, Helvetica, sans-serif" text-anchor="end" textLength="33" lengthAdjust="spacingAndGlyphs">400</text>
<text x="150.0" y="604.5" font-size="19.5" font-family="Liberation Sans, Arial, Helvetica, sans-serif" text-anchor="end" textLength="33" lengthAdjust="spacingAndGlyphs">300</text>
<text x="150.0" y="677.5" font-size="19.5" font-family="Liberation Sans, Arial, Helvetica, sans-serif" text-anchor="end" textLength="33" lengthAdjust="spacingAndGlyphs">200</text>
<text x="150.0" y="750.5" font-size="19.5" font-family="Liberation Sans, Arial, Helvetica, sans-serif" text-anchor="end" textLength="33" lengthAdjust="spacingAndGlyphs">100</text>
<g shape-rendering="crispEdges">
<rect x="464" y="783.69" width="41" height="4.91" fill="#00008F"/>
<rect x="464" y="779.38" width="41" height="4.91" fill="#00009F"/>
<rect x="464" y="775.06" width="41" height="4.91" fill="#0000AF"/>
<rect x="464" y="770.75" width="41" height="4.91" fill="#0000BF"/>
<rect x="464" y="766.44" width="41" height="4.91" fill="#0000CF"/>
<rect x="464" y="762.12" width="41" height="4.91" fill="#0000DF"/>
<rect x="464" y="757.81" width="41" height="4.91" fill="#0000EF"/>
<rect x="464" y="753.50" width="41" height="4.91" fill="#0000FF"/>
<rect x="464" y="749.19" width="41" height="4.91" fill="#0010FF"/>
<rect x="464" y="744.88" width="41" height="4.91" fill="#0020FF"/>
<rect x="464" y="740.56" width="41" height="4.91" fill="#0030FF"/>
<rect x="464" y="736.25" width="41" height="4.91" fill="#0040FF"/>
<rect x="464" y="731.94" width="41" height="4.91" fill="#0050FF"/>
<rect x="464" y="727.62" width="41" height="4.91" fill="#0060FF"/>
<rect x="464" y="723.31" width="41" height="4.91" fill="#0070FF"/>
<rect x="464" y="719.00" width="41" height="4.91" fill="#0080FF"/>
<rect x="464" y="714.69" width="41" height="4.91" fill="#008FFF"/>
<rect x="464" y="710.38" width="41" height="4.91" fill="#009FFF"/>
<rect x="464" y="706.06" width="41" height="4.91" fill="#00AFFF"/>
<rect x="464" y="701.75" width="41" height="4.91" fill="#00BFFF"/>
<rect x="464" y="697.44" width="41" height="4.91" fill="#00CFFF"/>
<rect x="464" y="693.12" width="41" height="4.91" fill="#00DFFF"/>
<rect x="464" y="688.81" width="41" height="4.91" fill="#00EFFF"/>
<rect x="464" y="684.50" width="41" height="4.91" fill="#00FFFF"/>
<rect x="464" y="680.19" width="41" height="4.91" fill="#10FFEF"/>
<rect x="464" y="675.88" width="41" height="4.91" fill="#20FFDF"/>
<rect x="464" y="671.56" width="41" height="4.91" fill="#30FFCF"/>
<rect x="464" y="667.25" width="41" height="4.91" fill="#40FFBF"/>
<rect x="464" y="662.94" width="41" height="4.91" fill="#50FFAF"/>
<rect x="464" y="658.62" width="41" height="4.91" fill="#60FF9F"/>
<rect x="464" y="654.31" width="41" height="4.91" fill="#70FF8F"/>
<rect x="464" y="650.00" width="41" height="4.91" fill="#80FF80"/>
<rect x="464" y="645.69" width="41" height="4.91" fill="#8FFF70"/>
<rect x="464" y="641.38" width="41" height="4.91" fill="#9FFF60"/>
<rect x="464" y="637.06" width="41" height="4.91" fill="#AFFF50"/>
<rect x="464" y="632.75" width="41" height="4.91" fill="#BFFF40"/>
<rect x="464" y="628.44" width="41" height="4.91" fill="#CFFF30"/>
<rect x="464" y="624.12" width="41" height="4.91" fill="#DFFF20"/>
<rect x="464" y="619.81" width="41" height="4.91" fill="#EFFF10"/>
<rect x="464" y="615.50" width="41" height="4.91" fill="#FFFF00"/>
<rect x="464" y="611.19" width="41" height="4.91" fill="#FFEF00"/>
<rect x="464" y="606.88" width="41" height="4.91" fill="#FFDF00"/>
<rect x="464" y="602.56" width="41" height="4.91" fill="#FFCF00"/>
<rect x="464" y="598.25" width="41" height="4.91" fill="#FFBF00"/>
<rect x="464" y="593.94" width="41" height="4.91" fill="#FFAF00"/>
<rect x="464" y="589.62" width="41" height="4.91" fill="#FF9F00"/>
<rect x="464" y="585.31" width="41" height="4.91" fill="#FF8F00"/>
<rect x="464" y="581.00" width="41" height="4.91" fill="#FF8000"/>
<rect x="464" y="576.69" width="41" height="4.91" fill="#FF7000"/>
<rect x="464" y="572.38" width="41" height="4.91" fill="#FF6000"/>
<rect x="464" y="568.06" width="41" height="4.91" fill="#FF5000"/>
<rect x="464" y="563.75" width="41" height="4.91" fill="#FF4000"/>
<rect x="464" y="559.44" width="41" height="4.91" fill="#FF3000"/>
<rect x="464" y="555.12" width="41" height="4.91" fill="#FF2000"/>
<rect x="464" y="550.81" width="41" height="4.91" fill="#FF1000"/>
<rect x="464" y="546.50" width="41" height="4.91" fill="#FF0000"/>
<rect x="464" y="542.19" width="41" height="4.91" fill="#EF0000"/>
<rect x="464" y="537.88" width="41" height="4.91" fill="#DF0000"/>
<rect x="464" y="533.56" width="41" height="4.91" fill="#CF0000"/>
<rect x="464" y="529.25" width="41" height="4.91" fill="#BF0000"/>
<rect x="464" y="524.94" width="41" height="4.91" fill="#AF0000"/>
<rect x="464" y="520.62" width="41" height="4.91" fill="#9F0000"/>
<rect x="464" y="516.31" width="41" height="4.91" fill="#8F0000"/>
<rect x="464" y="512.00" width="41" height="4.91" fill="#800000"/>
<rect x="463.5" y="511.5" width="42" height="277" fill="none" stroke="#000" stroke-width="1"/>
<rect x="464" y="554" width="3" height="1" fill="#000"/>
<rect x="502" y="554" width="3" height="1" fill="#000"/>
<rect x="464" y="608" width="3" height="1" fill="#000"/>
<rect x="502" y="608" width="3" height="1" fill="#000"/>
<rect x="464" y="663" width="3" height="1" fill="#000"/>
<rect x="502" y="663" width="3" height="1" fill="#000"/>
<rect x="464" y="717" width="3" height="1" fill="#000"/>
<rect x="502" y="717" width="3" height="1" fill="#000"/>
<rect x="464" y="771" width="3" height="1" fill="#000"/>
<rect x="502" y="771" width="3" height="1" fill="#000"/>
</g>
<text x="511.0" y="564.5" font-size="19.5" font-family="Liberation Sans, Arial, Helvetica, sans-serif" textLength="10.5" lengthAdjust="spacingAndGlyphs">0</text>
<text x="511.0" y="618.5" font-size="19.5" font-family="Liberation Sans, Arial, Helvetica, sans-serif" textLength="29.0" lengthAdjust="spacingAndGlyphs">-10</text>
<text x="511.0" y="673.5" font-size="19.5" font-family="Liberation Sans, Arial, Helvetica, sans-serif" textLength="29.0" lengthAdjust="spacingAndGlyphs">-20</text>
<text x="511.0" y="727.5" font-size="19.5" font-family="Liberation Sans, Arial, Helvetica, sans-serif" textLength="29.0" lengthAdjust="spacingAndGlyphs">-30</text>
<text x="511.0" y="781.5" font-size="19.5" font-family="Liberation Sans, Arial, Helvetica, sans-serif" textLength="29.0" lengthAdjust="spacingAndGlyphs">-40</text>
<text x="293" y="493.7" font-size="21.5" font-family="Liberation Sans, Arial, Helvetica, sans-serif" text-anchor="middle" textLength="165.5" lengthAdjust="spacingAndGlyphs">Longitude 100 km</text>
<defs><clipPath id="clipR"><circle cx="821.6" cy="648.8" r="138.3"/></clipPath><clipPath id="axR"><rect x="685" y="511" width="274" height="275"/></clipPath></defs>
<g clip-path="url(#axR)"><g clip-path="url(#clipR)" shape-rendering="crispEdges">
<rect x="670" y="500" width="300" height="300" fill="#00CFFF"/>
<path d="M706.0 590.0 C705.7 590.7 705.3 591.3 704.0 594.0 C702.7 596.7 699.5 601.8 698.0 606.0 C696.5 610.2 696.2 614.8 695.2 619.3 C694.2 623.8 693.2 628.2 692.3 632.7 C691.4 637.2 690.2 643.0 689.7 646.0 C689.2 649.0 689.5 647.7 689.5 651.0 C689.5 654.3 689.0 661.0 689.5 666.0 C690.0 671.0 691.2 676.0 692.2 681.0 C693.2 686.0 693.9 691.0 695.5 696.0 C697.1 701.0 699.1 706.0 701.6 711.0 C704.1 716.0 707.0 721.0 710.6 726.0 C714.2 731.0 719.6 737.0 723.2 741.0 C726.8 745.0 729.5 747.2 732.3 750.0 C735.1 752.8 736.2 755.2 740.0 758.0 C743.8 760.8 750.0 764.1 755.0 767.0 C760.0 769.9 765.0 773.2 770.0 775.5 C775.0 777.8 780.8 779.6 785.0 781.0 C789.2 782.4 793.3 783.5 795.0 784.0 L800.0 800.0 L1000.0 800.0 L1000.0 480.0 L706.0 480.0 Z" fill="#008FFF"/>
<path d="M706.0 590.0 C705.7 590.7 705.3 591.3 704.0 594.0 C702.7 596.7 699.5 601.8 698.0 606.0 C696.5 610.2 696.2 614.8 695.2 619.3 C694.2 623.8 693.2 628.2 692.3 632.7 C691.4 637.2 690.2 643.0 689.7 646.0 C689.2 649.0 689.5 647.7 689.5 651.0 C689.5 654.3 689.0 661.0 689.5 666.0 C690.0 671.0 691.2 676.0 692.2 681.0 C693.2 686.0 693.9 691.0 695.5 696.0 C697.1 701.0 699.1 706.0 701.6 711.0 C704.1 716.0 707.0 721.0 710.6 726.0 C714.2 731.0 719.6 737.0 723.2 741.0 C726.8 745.0 729.5 747.2 732.3 750.0 C735.1 752.8 736.2 755.2 740.0 758.0 C743.8 760.8 750.0 764.1 755.0 767.0 C760.0 769.9 765.0 773.2 770.0 775.5 C775.0 777.8 780.8 779.6 785.0 781.0 C789.2 782.4 793.3 783.5 795.0 784.0" fill="none" stroke="#000" stroke-width="1.20"/>
<path d="M700.0 608.0 C699.8 608.7 699.4 609.7 699.0 612.0 C698.6 614.3 698.2 618.5 697.5 622.0 C696.8 625.5 695.6 628.7 694.8 632.7 C694.0 636.7 692.8 643.0 692.5 646.0 C692.2 649.0 692.7 647.7 692.8 651.0 C692.9 654.3 692.7 661.0 693.2 666.0 C693.7 671.0 694.6 676.0 695.6 681.0 C696.6 686.0 697.4 691.0 699.0 696.0 C700.6 701.0 702.7 706.0 705.2 711.0 C707.7 716.0 710.2 721.0 713.8 726.0 C717.3 731.0 722.8 737.0 726.5 741.0 C730.2 745.0 733.8 747.8 736.0 750.0 C738.2 752.2 736.8 752.2 740.0 754.5 C743.2 756.8 750.0 760.9 755.0 764.0 C760.0 767.1 765.0 770.5 770.0 773.0 C775.0 775.5 780.8 777.4 785.0 779.0 C789.2 780.6 793.3 781.9 795.0 782.5 L795.0 800.0 L1000.0 800.0 L1000.0 480.0 L700.0 480.0 Z" fill="#0050FF"/>
<path d="M700.0 608.0 C699.8 608.7 699.4 609.7 699.0 612.0 C698.6 614.3 698.2 618.5 697.5 622.0 C696.8 625.5 695.6 628.7 694.8 632.7 C694.0 636.7 692.8 643.0 692.5 646.0 C692.2 649.0 692.7 647.7 692.8 651.0 C692.9 654.3 692.7 661.0 693.2 666.0 C693.7 671.0 694.6 676.0 695.6 681.0 C696.6 686.0 697.4 691.0 699.0 696.0 C700.6 701.0 702.7 706.0 705.2 711.0 C707.7 716.0 710.2 721.0 713.8 726.0 C717.3 731.0 722.8 737.0 726.5 741.0 C730.2 745.0 733.8 747.8 736.0 750.0 C738.2 752.2 736.8 752.2 740.0 754.5 C743.2 756.8 750.0 760.9 755.0 764.0 C760.0 767.1 765.0 770.5 770.0 773.0 C775.0 775.5 780.8 777.4 785.0 779.0 C789.2 780.6 793.3 781.9 795.0 782.5" fill="none" stroke="#000" stroke-width="1.20"/>
<path d="M716.0 574.7 C715.3 575.2 713.1 577.0 712.0 578.0 C710.9 579.0 710.9 578.0 709.5 581.0 C708.1 584.0 705.1 591.8 703.5 596.0 C701.9 600.2 700.9 602.1 700.0 606.0 C699.1 609.9 698.9 614.8 698.3 619.3 C697.7 623.8 696.8 628.2 696.3 632.7 C695.8 637.2 695.3 643.0 695.0 646.0 C694.7 649.0 694.7 647.7 694.7 651.0 C694.8 654.3 694.7 661.0 695.3 666.0 C695.9 671.0 697.2 676.0 698.3 681.0 C699.4 686.0 700.1 691.0 701.8 696.0 C703.5 701.0 705.6 706.0 708.3 711.0 C711.0 716.0 714.4 721.0 718.0 726.0 C721.6 731.0 726.5 737.0 730.0 741.0 C733.5 745.0 736.4 747.7 738.7 750.0 C741.0 752.3 740.8 752.6 744.0 755.0 C747.2 757.4 753.2 761.6 758.0 764.5 C762.8 767.4 768.0 770.2 773.0 772.5 C778.0 774.8 784.0 777.1 788.0 778.5 C792.0 779.9 795.5 780.6 797.0 781.0 L797.0 800.0 L1000.0 800.0 L1000.0 480.0 L716.0 480.0 Z" fill="#000"/>
<path d="M705.0 688.0 C705.8 689.5 707.7 693.2 709.5 697.0 C711.3 700.8 713.2 706.2 716.0 711.0 C718.8 715.8 722.3 720.8 726.5 726.0 C730.7 731.2 736.7 737.5 741.0 742.0 C745.3 746.5 748.1 749.2 752.5 753.0 C756.9 756.8 762.5 761.2 767.5 764.5 C772.5 767.8 778.8 771.2 782.5 773.0 C786.2 774.8 787.5 774.4 790.0 775.3 C792.5 776.2 795.0 777.5 797.5 778.5 C800.0 779.5 802.6 780.2 805.0 781.0 C807.4 781.8 810.8 782.7 812.0 783.0 L830.0 786.0 L830.0 800.0 L1000.0 800.0 L1000.0 480.0 L705.0 480.0 Z" fill="#FF7000"/>
<path d="M714.4 711.8 C716.1 714.3 720.7 721.6 724.9 726.8 C729.1 732.0 735.1 738.3 739.4 742.8 C743.7 747.3 746.5 750.0 750.9 753.8 C755.3 757.5 760.9 762.0 765.9 765.3 C770.9 768.6 777.1 772.0 780.9 773.8 C784.6 775.6 785.9 775.2 788.4 776.1 C790.9 777.0 793.4 778.3 795.9 779.3 C798.4 780.2 801.0 781.0 803.4 781.8 C805.8 782.5 809.2 783.5 810.4 783.8" fill="none" stroke="#FF3000" stroke-width="1.3" stroke-dasharray="2 1.5"/>
<path d="M701.5 668.0 C701.8 670.2 702.0 676.3 703.5 681.0 C705.0 685.7 708.3 691.0 710.8 696.0 C713.3 701.0 715.3 706.0 718.5 711.0 C721.7 716.0 725.7 720.8 730.0 726.0 C734.3 731.2 740.3 737.8 744.5 742.0 C748.7 746.2 750.8 748.1 755.0 751.5 C759.2 754.9 765.8 759.8 770.0 762.5 C774.2 765.2 776.7 766.3 780.0 768.0 C783.3 769.7 786.1 771.2 790.0 772.6 C793.9 774.0 798.8 775.2 803.3 776.5 C807.8 777.8 813.1 779.4 816.7 780.3 C820.3 781.2 820.9 781.7 824.7 782.0 C828.5 782.3 836.9 782.0 839.3 782.0 L845.0 790.0 L845.0 800.0 L1000.0 800.0 L1000.0 480.0 L701.5 480.0 Z" fill="#FFAF00"/>
<path d="M701.5 668.0 C701.8 670.2 702.0 676.3 703.5 681.0 C705.0 685.7 708.3 691.0 710.8 696.0 C713.3 701.0 715.3 706.0 718.5 711.0 C721.7 716.0 725.7 720.8 730.0 726.0 C734.3 731.2 740.3 737.8 744.5 742.0 C748.7 746.2 750.8 748.1 755.0 751.5 C759.2 754.9 765.8 759.8 770.0 762.5 C774.2 765.2 776.7 766.3 780.0 768.0 C783.3 769.7 786.1 771.2 790.0 772.6 C793.9 774.0 798.8 775.2 803.3 776.5 C807.8 777.8 813.1 779.4 816.7 780.3 C820.3 781.2 820.9 781.7 824.7 782.0 C828.5 782.3 836.9 782.0 839.3 782.0" fill="none" stroke="#000" stroke-width="1.20"/>
<path d="M701.0 652.0 C701.2 654.3 701.0 661.2 702.0 666.0 C703.0 670.8 705.0 676.0 707.0 681.0 C709.0 686.0 711.3 691.0 714.0 696.0 C716.7 701.0 719.5 706.0 723.0 711.0 C726.5 716.0 730.2 720.8 734.7 726.0 C739.2 731.2 745.0 737.5 750.0 742.0 C755.0 746.5 760.0 749.5 765.0 753.0 C770.0 756.5 775.8 760.4 780.0 763.0 C784.2 765.6 786.1 766.9 790.0 768.5 C793.9 770.1 798.8 771.2 803.3 772.7 C807.8 774.2 813.4 776.5 816.7 777.7 C820.0 778.9 819.4 779.2 823.3 779.7 C827.2 780.2 835.5 780.8 840.0 781.0 C844.5 781.2 848.3 781.0 850.0 781.0 L858.0 779.0 L870.0 790.0 L870.0 800.0 L1000.0 800.0 L1000.0 480.0 L701.0 480.0 Z" fill="#FFEF00"/>
<path d="M701.0 652.0 C701.2 654.3 701.0 661.2 702.0 666.0 C703.0 670.8 705.0 676.0 707.0 681.0 C709.0 686.0 711.3 691.0 714.0 696.0 C716.7 701.0 719.5 706.0 723.0 711.0 C726.5 716.0 730.2 720.8 734.7 726.0 C739.2 731.2 745.0 737.5 750.0 742.0 C755.0 746.5 760.0 749.5 765.0 753.0 C770.0 756.5 775.8 760.4 780.0 763.0 C784.2 765.6 786.1 766.9 790.0 768.5 C793.9 770.1 798.8 771.2 803.3 772.7 C807.8 774.2 813.4 776.5 816.7 777.7 C820.0 778.9 819.4 779.2 823.3 779.7 C827.2 780.2 835.5 780.8 840.0 781.0 C844.5 781.2 848.3 781.0 850.0 781.0" fill="none" stroke="#000" stroke-width="1.20"/>
<path d="M703.7 620.3 C703.5 622.4 703.2 628.2 702.7 632.7 C702.2 637.2 700.9 644.5 701.0 647.5 C701.1 650.5 702.5 647.9 703.5 651.0 C704.5 654.1 705.7 661.0 707.3 666.0 C708.9 671.0 710.7 676.0 713.0 681.0 C715.3 686.0 718.0 691.0 721.0 696.0 C724.0 701.0 727.0 706.0 730.7 711.0 C734.4 716.0 738.4 720.8 743.3 726.0 C748.2 731.2 754.7 737.7 760.0 742.0 C765.3 746.3 770.0 748.8 775.0 752.0 C780.0 755.2 785.3 759.0 790.0 761.5 C794.7 764.0 798.8 765.2 803.3 767.0 C807.8 768.8 812.2 770.6 816.7 772.0 C821.2 773.4 826.7 774.6 830.0 775.3 C833.3 776.0 831.0 776.0 836.7 776.2 C842.4 776.5 859.5 776.7 864.0 776.8 L900.0 777.0 L900.0 800.0 L1000.0 800.0 L1000.0 480.0 L703.7 480.0 Z" fill="#CFFF30"/>
<path d="M703.7 620.3 C703.5 622.4 703.2 628.2 702.7 632.7 C702.2 637.2 700.9 644.5 701.0 647.5 C701.1 650.5 702.5 647.9 703.5 651.0 C704.5 654.1 705.7 661.0 707.3 666.0 C708.9 671.0 710.7 676.0 713.0 681.0 C715.3 686.0 718.0 691.0 721.0 696.0 C724.0 701.0 727.0 706.0 730.7 711.0 C734.4 716.0 738.4 720.8 743.3 726.0 C748.2 731.2 754.7 737.7 760.0 742.0 C765.3 746.3 770.0 748.8 775.0 752.0 C780.0 755.2 785.3 759.0 790.0 761.5 C794.7 764.0 798.8 765.2 803.3 767.0 C807.8 768.8 812.2 770.6 816.7 772.0 C821.2 773.4 826.7 774.6 830.0 775.3 C833.3 776.0 831.0 776.0 836.7 776.2 C842.4 776.5 859.5 776.7 864.0 776.8" fill="none" stroke="#000" stroke-width="1.20"/>
<path d="M705.7 606.0 C705.4 607.5 704.3 612.3 704.0 614.7 C703.7 617.1 702.9 617.3 703.7 620.3 C704.5 623.3 706.9 627.6 708.7 632.7 C710.5 637.8 712.5 645.5 714.5 651.0 C716.5 656.5 718.6 661.0 721.0 666.0 C723.4 671.0 725.9 676.0 728.7 681.0 C731.5 686.0 734.4 691.0 738.0 696.0 C741.6 701.0 745.5 706.0 750.3 711.0 C755.1 716.0 761.9 721.8 766.7 726.0 C771.5 730.2 775.1 733.0 779.0 736.0 C782.9 739.0 786.0 741.6 790.0 744.3 C794.0 747.0 798.8 749.6 803.3 752.0 C807.8 754.4 812.2 756.9 816.7 758.7 C821.2 760.5 825.6 761.5 830.0 762.7 C834.4 763.9 839.4 764.9 843.3 765.7 C847.2 766.5 846.5 767.1 853.3 767.3 C860.1 767.5 877.5 767.4 884.0 767.1 C890.5 766.8 890.7 765.6 892.0 765.3 L920.0 760.0 L920.0 800.0 L1000.0 800.0 L1000.0 480.0 L705.7 480.0 Z" fill="#8FFF70"/>
<path d="M705.7 606.0 C705.4 607.5 704.3 612.3 704.0 614.7 C703.7 617.1 702.9 617.3 703.7 620.3 C704.5 623.3 706.9 627.6 708.7 632.7 C710.5 637.8 712.5 645.5 714.5 651.0 C716.5 656.5 718.6 661.0 721.0 666.0 C723.4 671.0 725.9 676.0 728.7 681.0 C731.5 686.0 734.4 691.0 738.0 696.0 C741.6 701.0 745.5 706.0 750.3 711.0 C755.1 716.0 761.9 721.8 766.7 726.0 C771.5 730.2 775.1 733.0 779.0 736.0 C782.9 739.0 786.0 741.6 790.0 744.3 C794.0 747.0 798.8 749.6 803.3 752.0 C807.8 754.4 812.2 756.9 816.7 758.7 C821.2 760.5 825.6 761.5 830.0 762.7 C834.4 763.9 839.4 764.9 843.3 765.7 C847.2 766.5 846.5 767.1 853.3 767.3 C860.1 767.5 877.5 767.4 884.0 767.1 C890.5 766.8 890.7 765.6 892.0 765.3" fill="none" stroke="#000" stroke-width="1.20"/>
<path d="M708.7 594.3 C710.2 594.3 715.3 593.7 717.7 594.3 C720.1 594.9 720.8 596.0 723.0 598.0 C725.2 600.0 727.2 602.5 730.7 606.0 C734.2 609.5 739.6 614.8 744.0 619.3 C748.4 623.8 754.0 629.2 757.3 632.7 C760.6 636.2 760.6 636.3 764.0 640.0 C767.4 643.7 772.8 650.0 777.9 655.0 C783.0 660.0 789.0 665.4 794.5 670.0 C800.0 674.6 805.7 678.5 811.2 682.5 C816.8 686.5 823.0 690.7 827.8 694.0 C832.6 697.3 836.1 699.8 840.0 702.5 C843.9 705.2 846.6 707.6 851.3 710.5 C856.0 713.4 863.7 717.6 868.0 720.0 C872.3 722.4 873.1 722.8 877.3 725.0 C881.5 727.2 888.4 730.7 893.3 733.0 C898.2 735.3 903.4 737.4 906.7 739.0 C910.0 740.6 911.5 741.5 913.3 742.7 C915.1 743.9 916.6 745.7 917.3 746.3 L940.0 760.0 L1000.0 800.0 L1000.0 480.0 L708.7 480.0 Z" fill="#50FFAF"/>
<path d="M708.7 594.3 C710.2 594.3 715.3 593.7 717.7 594.3 C720.1 594.9 720.8 596.0 723.0 598.0 C725.2 600.0 727.2 602.5 730.7 606.0 C734.2 609.5 739.6 614.8 744.0 619.3 C748.4 623.8 754.0 629.2 757.3 632.7 C760.6 636.2 760.6 636.3 764.0 640.0 C767.4 643.7 772.8 650.0 777.9 655.0 C783.0 660.0 789.0 665.4 794.5 670.0 C800.0 674.6 805.7 678.5 811.2 682.5 C816.8 686.5 823.0 690.7 827.8 694.0 C832.6 697.3 836.1 699.8 840.0 702.5 C843.9 705.2 846.6 707.6 851.3 710.5 C856.0 713.4 863.7 717.6 868.0 720.0 C872.3 722.4 873.1 722.8 877.3 725.0 C881.5 727.2 888.4 730.7 893.3 733.0 C898.2 735.3 903.4 737.4 906.7 739.0 C910.0 740.6 911.5 741.5 913.3 742.7 C915.1 743.9 916.6 745.7 917.3 746.3" fill="none" stroke="#000" stroke-width="1.20"/>
<path d="M788.0 775.0 C789.6 775.6 794.7 777.8 797.5 778.9 C800.3 780.0 802.6 780.7 805.0 781.4 C807.4 782.1 809.5 783.1 812.0 783.3 C814.5 783.5 817.9 782.9 820.0 782.8 C822.1 782.7 821.5 782.6 824.7 782.6 C827.9 782.6 835.1 782.8 839.3 782.6 C843.5 782.4 846.9 782.1 850.0 781.6 C853.1 781.1 855.7 780.4 858.0 779.8 C860.3 779.2 861.7 778.9 864.0 778.2 C866.3 777.5 869.3 776.5 872.0 775.4 C874.7 774.3 877.3 773.2 880.0 771.9 C882.7 770.6 885.8 769.0 888.0 767.8 C890.2 766.6 892.2 765.3 893.0 764.8 L900.0 765.0 L900.0 800.0 L788.0 800.0 Z" fill="#000"/>
<path d="M685.0 642.0 C685.4 640.5 686.3 636.5 687.2 632.7 C688.1 628.9 689.1 623.8 690.2 619.3 C691.3 614.8 692.2 609.9 693.8 606.0 C695.4 602.1 697.4 600.2 700.0 596.0 C702.6 591.8 707.5 584.0 709.5 581.0 C711.5 578.0 711.6 578.5 712.0 578.0 L715.3 576.7 C716.1 576.0 717.9 574.5 720.0 572.7 C722.1 570.9 724.7 568.3 728.0 566.0 C731.3 563.7 735.8 561.2 740.0 559.0 C744.2 556.8 750.0 554.3 753.3 553.0 C756.6 551.7 756.7 552.2 760.0 551.3 C763.3 550.3 768.8 548.2 773.3 547.3 C777.8 546.4 782.2 546.3 786.7 546.0 C791.2 545.7 795.6 545.2 800.0 545.3 C804.4 545.3 808.8 545.8 813.3 546.3 C817.8 546.8 822.2 547.5 826.7 548.3 C831.2 549.1 835.9 550.2 840.0 551.3 C844.1 552.4 846.6 553.1 851.3 555.0 C856.0 556.9 862.5 559.6 868.0 562.4 C873.5 565.2 879.9 568.8 884.6 571.6 C889.3 574.5 892.4 576.8 896.0 579.5 C899.6 582.2 902.7 584.8 906.0 588.0 C909.3 591.2 912.7 595.0 916.0 599.0 C919.3 603.0 923.0 608.0 926.0 612.0 C929.0 616.0 932.1 620.0 934.0 623.0 C935.9 626.0 936.0 626.8 937.5 630.0 C939.0 633.2 941.4 637.8 943.0 642.0 C944.6 646.2 946.0 650.3 947.0 655.0 C948.0 659.7 948.7 664.2 949.0 670.0 C949.3 675.8 949.2 685.0 949.0 690.0 C948.8 695.0 948.2 697.8 948.0 700.0 C947.8 702.2 947.6 702.5 947.5 703.0 L1000 703 L1000 480 L600 480 L600 642 Z" fill="#10FFEF"/>
<path d="M715.3 576.7 C716.1 576.0 717.9 574.5 720.0 572.7 C722.1 570.9 724.7 568.3 728.0 566.0 C731.3 563.7 735.8 561.2 740.0 559.0 C744.2 556.8 750.0 554.3 753.3 553.0 C756.6 551.7 756.7 552.2 760.0 551.3 C763.3 550.3 768.8 548.2 773.3 547.3 C777.8 546.4 782.2 546.3 786.7 546.0 C791.2 545.7 795.6 545.2 800.0 545.3 C804.4 545.3 808.8 545.8 813.3 546.3 C817.8 546.8 822.2 547.5 826.7 548.3 C831.2 549.1 835.9 550.2 840.0 551.3 C844.1 552.4 846.6 553.1 851.3 555.0 C856.0 556.9 862.5 559.6 868.0 562.4 C873.5 565.2 879.9 568.8 884.6 571.6 C889.3 574.5 892.4 576.8 896.0 579.5 C899.6 582.2 902.7 584.8 906.0 588.0 C909.3 591.2 912.7 595.0 916.0 599.0 C919.3 603.0 923.0 608.0 926.0 612.0 C929.0 616.0 932.1 620.0 934.0 623.0 C935.9 626.0 936.0 626.8 937.5 630.0 C939.0 633.2 941.4 637.8 943.0 642.0 C944.6 646.2 946.0 650.3 947.0 655.0 C948.0 659.7 948.7 664.2 949.0 670.0 C949.3 675.8 949.2 685.0 949.0 690.0 C948.8 695.0 948.2 697.8 948.0 700.0 C947.8 702.2 947.6 702.5 947.5 703.0" fill="none" stroke="#000" stroke-width="1.20"/>
<path d="M685.0 642.0 C685.4 640.5 686.3 636.5 687.2 632.7 C688.1 628.9 689.1 623.8 690.2 619.3 C691.3 614.8 692.2 609.9 693.8 606.0 C695.4 602.1 697.4 600.2 700.0 596.0 C702.6 591.8 707.5 584.0 709.5 581.0 C711.5 578.0 711.6 578.5 712.0 578.0" fill="none" stroke="#000" stroke-width="1.20"/>
<path d="M709.5 581.0 L700.0 596.0 L693.8 606.0 L690.2 619.3 L687.2 632.7 L685.0 642.0 L680.0 660.0 L689.5 660.0 L689.7 646.0 L692.3 632.7 L695.2 619.3 L698.0 606.0 L704.0 594.0 L706.0 590.0 Z" fill="#00CFFF" stroke="none" stroke-width="1.20" stroke-linejoin="round"/>
<path d="M709.5 581.0 L706.0 590.0 L704.0 594.0 L698.0 606.0 L695.2 619.3 L692.3 632.7 L689.7 646.0 L689.5 660.0 L695.3 660.0 L695.0 646.0 L696.3 632.7 L698.3 619.3 L700.0 606.0 L703.5 596.0 Z" fill="#008FFF" stroke="none" stroke-width="1.20" stroke-linejoin="round"/>
<path d="M700.0 608.0 L699.0 612.0 L697.5 622.0 L694.8 632.7 L692.5 646.0 L692.8 660.0 L695.3 660.0 L695.0 646.0 L696.3 632.7 L698.3 619.3 L700.0 606.0 Z" fill="#0050FF" stroke="none" stroke-width="1.20" stroke-linejoin="round"/>
<path d="M706.0 590.0 C705.7 590.7 705.3 591.3 704.0 594.0 C702.7 596.7 699.5 601.8 698.0 606.0 C696.5 610.2 696.2 614.8 695.2 619.3 C694.2 623.8 693.2 628.2 692.3 632.7 C691.4 637.2 690.2 641.5 689.7 646.0 C689.2 650.5 689.5 657.7 689.5 660.0" fill="none" stroke="#000" stroke-width="1.20"/>
<path d="M699.0 612.0 C698.8 613.7 698.2 618.5 697.5 622.0 C696.8 625.5 695.6 628.7 694.8 632.7 C694.0 636.7 692.8 641.5 692.5 646.0 C692.2 650.5 692.8 657.7 692.8 660.0" fill="none" stroke="#000" stroke-width="1.20"/>
<path d="M716.0 574.7 L712.0 578.0 L709.5 581.0 L703.5 596.0 L700.0 606.0 L698.3 619.3 L696.3 632.7 L695.0 646.0 L694.7 651.0 L695.3 666.0 L701.0 666.0 L701.0 647.3 L702.7 632.7 L703.7 620.3 L704.0 614.7 L705.7 606.0 L708.7 594.3 L715.0 581.0 L719.0 575.0 Z" fill="#000" stroke="none" stroke-width="1.20" stroke-linejoin="round"/>
<path d="M730.0 556.3 C731.7 555.2 736.1 552.2 740.0 549.7 C743.9 547.2 750.0 543.1 753.3 541.0 C756.6 538.9 757.8 538.4 760.0 537.3 C762.2 536.2 764.5 535.3 766.7 534.3 C768.9 533.3 770.0 532.6 773.3 531.3 C776.6 530.0 782.2 528.0 786.7 526.7 C791.2 525.4 796.1 524.4 800.0 523.7 C803.9 523.0 803.9 522.5 810.0 522.3 C816.1 522.1 831.7 522.1 836.7 522.3 C841.7 522.5 837.2 522.7 840.0 523.3 C842.8 523.9 848.8 524.6 853.3 525.7 C857.8 526.8 862.2 528.2 866.7 529.7 C871.2 531.2 875.6 533.1 880.0 535.0 C884.4 536.9 889.8 539.6 893.3 541.3 C896.8 543.0 898.8 543.6 901.0 545.0 C903.2 546.4 904.2 547.7 906.7 549.7 C909.2 551.7 912.8 554.1 916.0 557.0 C919.2 559.9 922.7 563.2 926.0 567.0 C929.3 570.8 933.0 575.8 936.0 580.0 C939.0 584.2 941.7 588.2 944.0 592.0 C946.3 595.8 948.5 600.2 950.0 603.0 C951.5 605.8 952.5 608.0 953.0 609.0 L1000 609 L1000 480 L700 480 L732.0 551.0 Z" fill="#00CFFF"/>
<path d="M730.0 556.3 C731.7 555.2 736.1 552.2 740.0 549.7 C743.9 547.2 750.0 543.1 753.3 541.0 C756.6 538.9 757.8 538.4 760.0 537.3 C762.2 536.2 764.5 535.3 766.7 534.3 C768.9 533.3 770.0 532.6 773.3 531.3 C776.6 530.0 782.2 528.0 786.7 526.7 C791.2 525.4 796.1 524.4 800.0 523.7 C803.9 523.0 803.9 522.5 810.0 522.3 C816.1 522.1 831.7 522.1 836.7 522.3 C841.7 522.5 837.2 522.7 840.0 523.3 C842.8 523.9 848.8 524.6 853.3 525.7 C857.8 526.8 862.2 528.2 866.7 529.7 C871.2 531.2 875.6 533.1 880.0 535.0 C884.4 536.9 889.8 539.6 893.3 541.3 C896.8 543.0 898.8 543.6 901.0 545.0 C903.2 546.4 904.2 547.7 906.7 549.7 C909.2 551.7 912.8 554.1 916.0 557.0 C919.2 559.9 922.7 563.2 926.0 567.0 C929.3 570.8 933.0 575.8 936.0 580.0 C939.0 584.2 941.7 588.2 944.0 592.0 C946.3 595.8 948.5 600.2 950.0 603.0 C951.5 605.8 952.5 608.0 953.0 609.0" fill="none" stroke="#000" stroke-width="1.20"/>
<path d="M732.0 551.0 C733.9 549.5 739.8 544.2 743.3 541.7 C746.8 539.2 750.5 537.5 753.3 536.0 C756.1 534.5 757.8 533.8 760.0 532.7 C762.2 531.7 764.5 530.8 766.7 529.7 C768.9 528.6 770.0 527.5 773.3 526.0 C776.6 524.5 782.2 522.3 786.7 521.0 C791.2 519.7 795.6 518.8 800.0 518.0 C804.4 517.2 806.6 516.3 813.3 516.0 C820.0 515.7 833.3 515.7 840.0 516.0 C846.7 516.3 848.8 517.1 853.3 518.0 C857.8 518.9 862.2 520.0 866.7 521.3 C871.2 522.6 876.1 524.4 880.0 526.0 C883.9 527.6 886.7 529.0 890.0 530.7 C893.3 532.4 898.3 535.1 900.0 536.0 L1000 536 L1000 480 L700 480 L723.0 562.0 Z" fill="#008FFF"/>
<path d="M732.0 551.0 C733.9 549.5 739.8 544.2 743.3 541.7 C746.8 539.2 750.5 537.5 753.3 536.0 C756.1 534.5 757.8 533.8 760.0 532.7 C762.2 531.7 764.5 530.8 766.7 529.7 C768.9 528.6 770.0 527.5 773.3 526.0 C776.6 524.5 782.2 522.3 786.7 521.0 C791.2 519.7 795.6 518.8 800.0 518.0 C804.4 517.2 806.6 516.3 813.3 516.0 C820.0 515.7 833.3 515.7 840.0 516.0 C846.7 516.3 848.8 517.1 853.3 518.0 C857.8 518.9 862.2 520.0 866.7 521.3 C871.2 522.6 876.1 524.4 880.0 526.0 C883.9 527.6 886.7 529.0 890.0 530.7 C893.3 532.4 898.3 535.1 900.0 536.0" fill="none" stroke="#000" stroke-width="1.20"/>
<path d="M723.0 562.0 C724.2 560.7 726.6 557.6 730.0 554.0 C733.4 550.4 738.5 544.5 743.3 540.5 C748.1 536.5 753.7 532.6 758.7 529.7 C763.7 526.8 768.6 525.2 773.3 523.3 C778.0 521.4 782.2 519.6 786.7 518.3 C791.2 517.0 795.8 516.1 800.0 515.3 C804.2 514.5 805.3 514.0 812.0 513.7 C818.7 513.4 833.2 513.0 840.0 513.3 C846.8 513.6 848.5 514.5 853.0 515.5 C857.5 516.5 862.2 517.6 866.7 519.0 C871.2 520.4 875.6 521.9 880.0 524.0 C884.4 526.1 890.8 530.2 893.0 531.5 L1000 531 L1000 480 L690 480 L690 566 L717.3 564.3 Z" fill="#000"/>
<rect x="813" y="511" width="19" height="1.2" fill="#0050FF"/>
<path d="M743.3 536.3 L737.3 541.0 L731.3 547.7 L726.7 553.0 L717.3 564.3 L716.0 566.0 L710.7 571.3 L706.0 576.0 L702.7 580.0 L695.0 585.0 L690.0 560.0 L720.0 530.0 Z" fill="#50FFAF" stroke="#000" stroke-width="0.80" stroke-linejoin="round"/>
<path d="M743.5 535.8 L737.3 540.5 L731.3 547.2 L729.8 549.0 L724.0 546.0 L734.0 534.0 L741.0 530.0 Z" fill="#8FFF70" stroke="none" stroke-width="1.20" stroke-linejoin="round"/>
</g></g>
<g clip-path="url(#axR)"><circle cx="821.6" cy="648.8" r="138.0" fill="none" stroke="#000" stroke-width="1.2"/></g>
<g shape-rendering="crispEdges" fill="#000">
<rect x="684.5" y="510.5" width="275" height="276" fill="none" stroke="#000" stroke-width="1"/>
<rect x="736" y="511" width="1" height="3" />
<rect x="736" y="783" width="1" height="3" />
<rect x="809" y="511" width="1" height="3" />
<rect x="809" y="783" width="1" height="3" />
<rect x="883" y="511" width="1" height="3" />
<rect x="883" y="783" width="1" height="3" />
<rect x="956" y="511" width="1" height="3" />
<rect x="956" y="783" width="1" height="3" />
<rect x="685" y="520" width="3" height="1" />
<rect x="956" y="520" width="3" height="1" />
<rect x="685" y="594" width="3" height="1" />
<rect x="956" y="594" width="3" height="1" />
<rect x="685" y="667" width="3" height="1" />
<rect x="956" y="667" width="3" height="1" />
<rect x="685" y="740" width="3" height="1" />
<rect x="956" y="740" width="3" height="1" />
</g>
<text x="736" y="818" font-size="19.5" font-family="Liberation Sans, Arial, Helvetica, sans-serif" text-anchor="middle" textLength="33" lengthAdjust="spacingAndGlyphs">200</text>
<text x="809" y="818" font-size="19.5" font-family="Liberation Sans, Arial, Helvetica, sans-serif" text-anchor="middle" textLength="33" lengthAdjust="spacingAndGlyphs">300</text>
<text x="883" y="818" font-size="19.5" font-family="Liberation Sans, Arial, Helvetica, sans-serif" text-anchor="middle" textLength="33" lengthAdjust="spacingAndGlyphs">400</text>
<text x="956" y="818" font-size="19.5" font-family="Liberation Sans, Arial, Helvetica, sans-serif" text-anchor="middle" textLength="33" lengthAdjust="spacingAndGlyphs">500</text>
<text x="678.0" y="530.5" font-size="19.5" font-family="Liberation Sans, Arial, Helvetica, sans-serif" text-anchor="end" textLength="33" lengthAdjust="spacingAndGlyphs">400</text>
<text x="678.0" y="604.5" font-size="19.5" font-family="Liberation Sans, Arial, Helvetica, sans-serif" text-anchor="end" textLength="33" lengthAdjust="spacingAndGlyphs">300</text>
<text x="678.0" y="677.5" font-size="19.5" font-family="Liberation Sans, Arial, Helvetica, sans-serif" text-anchor="end" textLength="33" lengthAdjust="spacingAndGlyphs">200</text>
<text x="678.0" y="750.5" font-size="19.5" font-family="Liberation Sans, Arial, Helvetica, sans-serif" text-anchor="end" textLength="33" lengthAdjust="spacingAndGlyphs">100</text>
<g shape-rendering="crispEdges">
<rect x="991" y="783.69" width="41" height="4.91" fill="#00008F"/>
<rect x="991" y="779.38" width="41" height="4.91" fill="#00009F"/>
<rect x="991" y="775.06" width="41" height="4.91" fill="#0000AF"/>
<rect x="991" y="770.75" width="41" height="4.91" fill="#0000BF"/>
<rect x="991" y="766.44" width="41" height="4.91" fill="#0000CF"/>
<rect x="991" y="762.12" width="41" height="4.91" fill="#0000DF"/>
<rect x="991" y="757.81" width="41" height="4.91" fill="#0000EF"/>
<rect x="991" y="753.50" width="41" height="4.91" fill="#0000FF"/>
<rect x="991" y="749.19" width="41" height="4.91" fill="#0010FF"/>
<rect x="991" y="744.88" width="41" height="4.91" fill="#0020FF"/>
<rect x="991" y="740.56" width="41" height="4.91" fill="#0030FF"/>
<rect x="991" y="736.25" width="41" height="4.91" fill="#0040FF"/>
<rect x="991" y="731.94" width="41" height="4.91" fill="#0050FF"/>
<rect x="991" y="727.62" width="41" height="4.91" fill="#0060FF"/>
<rect x="991" y="723.31" width="41" height="4.91" fill="#0070FF"/>
<rect x="991" y="719.00" width="41" height="4.91" fill="#0080FF"/>
<rect x="991" y="714.69" width="41" height="4.91" fill="#008FFF"/>
<rect x="991" y="710.38" width="41" height="4.91" fill="#009FFF"/>
<rect x="991" y="706.06" width="41" height="4.91" fill="#00AFFF"/>
<rect x="991" y="701.75" width="41" height="4.91" fill="#00BFFF"/>
<rect x="991" y="697.44" width="41" height="4.91" fill="#00CFFF"/>
<rect x="991" y="693.12" width="41" height="4.91" fill="#00DFFF"/>
<rect x="991" y="688.81" width="41" height="4.91" fill="#00EFFF"/>
<rect x="991" y="684.50" width="41" height="4.91" fill="#00FFFF"/>
<rect x="991" y="680.19" width="41" height="4.91" fill="#10FFEF"/>
<rect x="991" y="675.88" width="41" height="4.91" fill="#20FFDF"/>
<rect x="991" y="671.56" width="41" height="4.91" fill="#30FFCF"/>
<rect x="991" y="667.25" width="41" height="4.91" fill="#40FFBF"/>
<rect x="991" y="662.94" width="41" height="4.91" fill="#50FFAF"/>
<rect x="991" y="658.62" width="41" height="4.91" fill="#60FF9F"/>
<rect x="991" y="654.31" width="41" height="4.91" fill="#70FF8F"/>
<rect x="991" y="650.00" width="41" height="4.91" fill="#80FF80"/>
<rect x="991" y="645.69" width="41" height="4.91" fill="#8FFF70"/>
<rect x="991" y="641.38" width="41" height="4.91" fill="#9FFF60"/>
<rect x="991" y="637.06" width="41" height="4.91" fill="#AFFF50"/>
<rect x="991" y="632.75" width="41" height="4.91" fill="#BFFF40"/>
<rect x="991" y="628.44" width="41" height="4.91" fill="#CFFF30"/>
<rect x="991" y="624.12" width="41" height="4.91" fill="#DFFF20"/>
<rect x="991" y="619.81" width="41" height="4.91" fill="#EFFF10"/>
<rect x="991" y="615.50" width="41" height="4.91" fill="#FFFF00"/>
<rect x="991" y="611.19" width="41" height="4.91" fill="#FFEF00"/>
<rect x="991" y="606.88" width="41" height="4.91" fill="#FFDF00"/>
<rect x="991" y="602.56" width="41" height="4.91" fill="#FFCF00"/>
<rect x="991" y="598.25" width="41" height="4.91" fill="#FFBF00"/>
<rect x="991" y="593.94" width="41" height="4.91" fill="#FFAF00"/>
<rect x="991" y="589.62" width="41" height="4.91" fill="#FF9F00"/>
<rect x="991" y="585.31" width="41" height="4.91" fill="#FF8F00"/>
<rect x="991" y="581.00" width="41" height="4.91" fill="#FF8000"/>
<rect x="991" y="576.69" width="41" height="4.91" fill="#FF7000"/>
<rect x="991" y="572.38" width="41" height="4.91" fill="#FF6000"/>
<rect x="991" y="568.06" width="41" height="4.91" fill="#FF5000"/>
<rect x="991" y="563.75" width="41" height="4.91" fill="#FF4000"/>
<rect x="991" y="559.44" width="41" height="4.91" fill="#FF3000"/>
<rect x="991" y="555.12" width="41" height="4.91" fill="#FF2000"/>
<rect x="991" y="550.81" width="41" height="4.91" fill="#FF1000"/>
<rect x="991" y="546.50" width="41" height="4.91" fill="#FF0000"/>
<rect x="991" y="542.19" width="41" height="4.91" fill="#EF0000"/>
<rect x="991" y="537.88" width="41" height="4.91" fill="#DF0000"/>
<rect x="991" y="533.56" width="41" height="4.91" fill="#CF0000"/>
<rect x="991" y="529.25" width="41" height="4.91" fill="#BF0000"/>
<rect x="991" y="524.94" width="41" height="4.91" fill="#AF0000"/>
<rect x="991" y="520.62" width="41" height="4.91" fill="#9F0000"/>
<rect x="991" y="516.31" width="41" height="4.91" fill="#8F0000"/>
<rect x="991" y="512.00" width="41" height="4.91" fill="#800000"/>
<rect x="990.5" y="511.5" width="42" height="277" fill="none" stroke="#000" stroke-width="1"/>
<rect x="991" y="537" width="3" height="1" fill="#000"/>
<rect x="1029" y="537" width="3" height="1" fill="#000"/>
<rect x="991" y="603" width="3" height="1" fill="#000"/>
<rect x="1029" y="603" width="3" height="1" fill="#000"/>
<rect x="991" y="669" width="3" height="1" fill="#000"/>
<rect x="1029" y="669" width="3" height="1" fill="#000"/>
<rect x="991" y="735" width="3" height="1" fill="#000"/>
<rect x="1029" y="735" width="3" height="1" fill="#000"/>
</g>
<text x="1038.0" y="547.5" font-size="19.5" font-family="Liberation Sans, Arial, Helvetica, sans-serif" textLength="21.5" lengthAdjust="spacingAndGlyphs">75</text>
<text x="1038.0" y="613.5" font-size="19.5" font-family="Liberation Sans, Arial, Helvetica, sans-serif" textLength="21.5" lengthAdjust="spacingAndGlyphs">70</text>
<text x="1038.0" y="679.5" font-size="19.5" font-family="Liberation Sans, Arial, Helvetica, sans-serif" textLength="21.5" lengthAdjust="spacingAndGlyphs">65</text>
<text x="1038.0" y="745.5" font-size="19.5" font-family="Liberation Sans, Arial, Helvetica, sans-serif" textLength="21.5" lengthAdjust="spacingAndGlyphs">60</text>
<text x="819.8" y="493.7" font-size="21.5" font-family="Liberation Sans, Arial, Helvetica, sans-serif" text-anchor="middle" textLength="150" lengthAdjust="spacingAndGlyphs">Latitude 100 km</text>
</svg>
</body></html>
